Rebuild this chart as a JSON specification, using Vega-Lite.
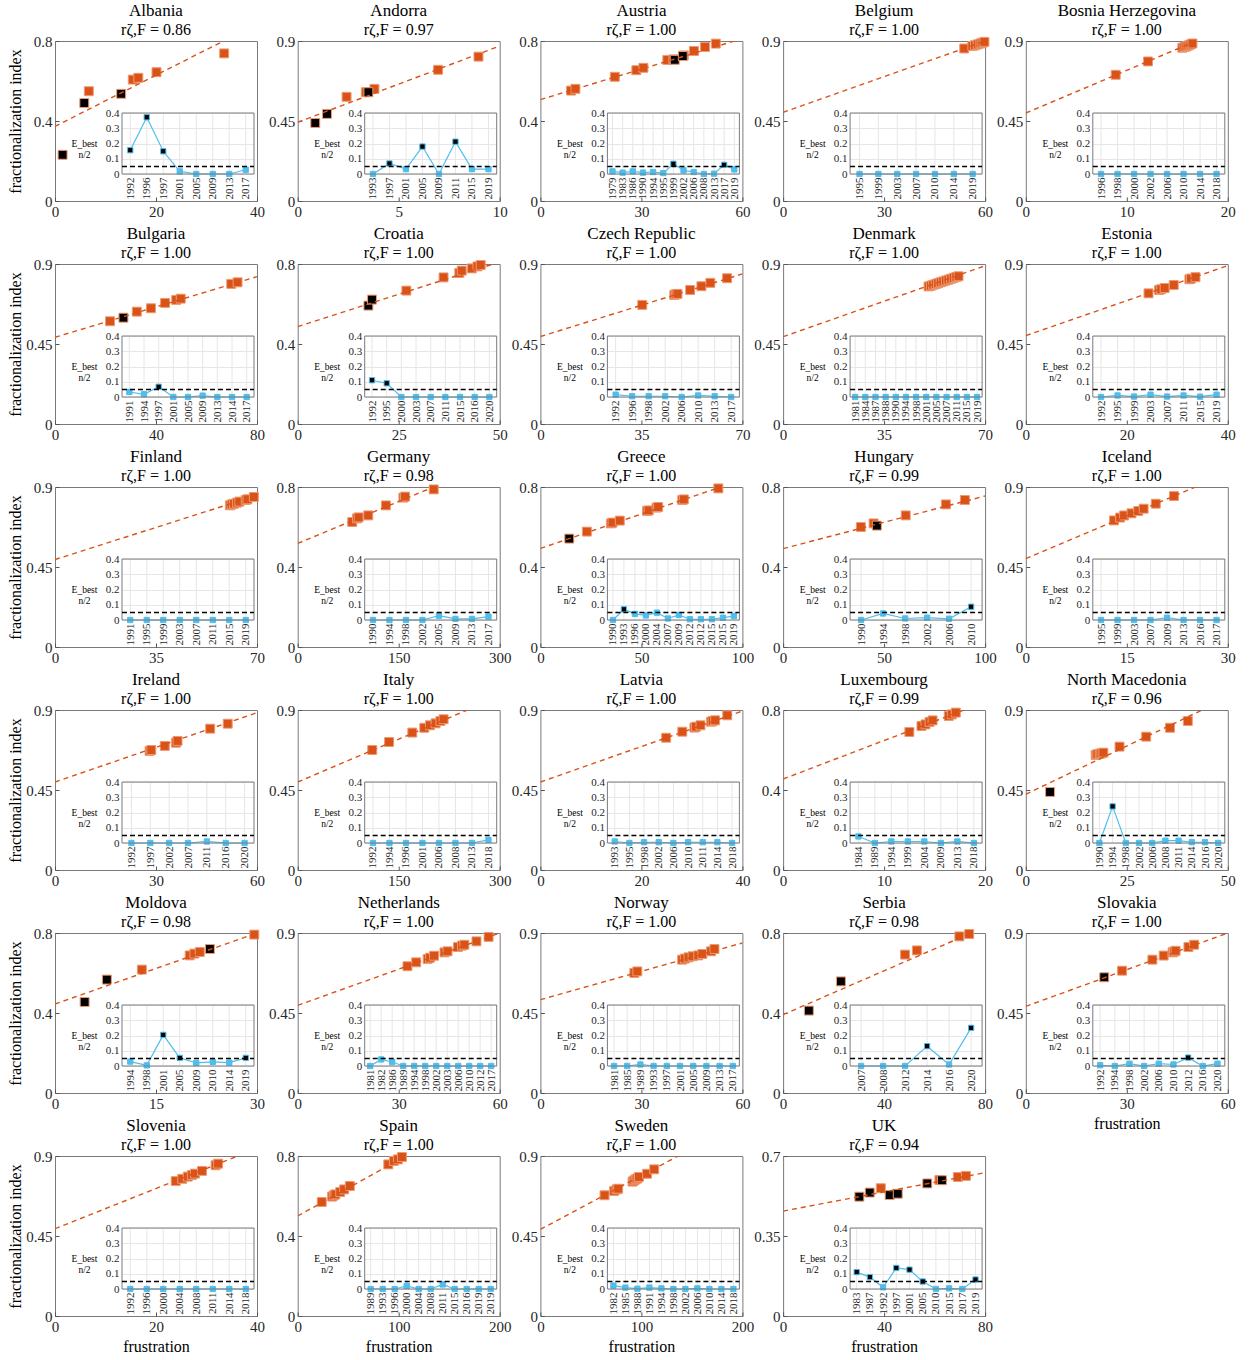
{
  "$schema": "https://vega.github.io/schema/vega-lite/v6.json",
  "padding": {"left": 6, "top": 1, "right": 0, "bottom": 0},
  "background": "white",
  "data": {"name": "el"},
  "columns": 5,
  "spacing": {"row": 63, "column": 40.7},
  "bounds": "flush",
  "datasets": {
    "el": [
      {"c":"Albania","yr":"1992","F":1.5,"z":0.231,"E":0.156,"hi":1},
      {"c":"Albania","yr":"1996","F":5.8,"z":0.49,"E":0.372,"hi":1},
      {"c":"Albania","yr":"1997","F":13.1,"z":0.536,"E":0.149,"hi":1},
      {"c":"Albania","yr":"2001","F":6.7,"z":0.549,"E":0.017},
      {"c":"Albania","yr":"2005","F":15.4,"z":0.607,"E":0},
      {"c":"Albania","yr":"2009","F":16.5,"z":0.616,"E":0},
      {"c":"Albania","yr":"2013","F":20.1,"z":0.644,"E":0},
      {"c":"Albania","yr":"2017","F":33.5,"z":0.738,"E":0.028},
      {"c":"Albania","F":0,"z":0.373,"F2":40,"z2":0.885},
      {"c":"Andorra","yr":"1993","F":2.42,"z":0.586,"E":0},
      {"c":"Andorra","yr":"1997","F":0.87,"z":0.439,"E":0.069,"hi":1},
      {"c":"Andorra","yr":"2001","F":3.37,"z":0.612,"E":0.032},
      {"c":"Andorra","yr":"2005","F":1.45,"z":0.49,"E":0.18,"hi":1},
      {"c":"Andorra","yr":"2009","F":3.8,"z":0.631,"E":0},
      {"c":"Andorra","yr":"2011","F":3.5,"z":0.612,"E":0.212,"hi":1},
      {"c":"Andorra","yr":"2015","F":6.95,"z":0.738,"E":0.032},
      {"c":"Andorra","yr":"2019","F":8.95,"z":0.812,"E":0.032},
      {"c":"Andorra","F":0,"z":0.443,"F2":10,"z2":0.872},
      {"c":"Austria","yr":"1979","F":9.1,"z":0.552,"E":0.017},
      {"c":"Austria","yr":"1983","F":10.4,"z":0.561,"E":0.009},
      {"c":"Austria","yr":"1986","F":22.1,"z":0.621,"E":0.017},
      {"c":"Austria","yr":"1990","F":28.5,"z":0.654,"E":0.009},
      {"c":"Austria","yr":"1994","F":30.6,"z":0.666,"E":0.013},
      {"c":"Austria","yr":"1995","F":37.7,"z":0.705,"E":0.006},
      {"c":"Austria","yr":"1999","F":39.9,"z":0.706,"E":0.067,"hi":1},
      {"c":"Austria","yr":"2002","F":39.5,"z":0.708,"E":0.024},
      {"c":"Austria","yr":"2006","F":42.6,"z":0.728,"E":0.013},
      {"c":"Austria","yr":"2008","F":45.6,"z":0.75,"E":0},
      {"c":"Austria","yr":"2013","F":48.9,"z":0.77,"E":0.002},
      {"c":"Austria","yr":"2017","F":42.3,"z":0.725,"E":0.06,"hi":1},
      {"c":"Austria","yr":"2019","F":52.1,"z":0.787,"E":0.03},
      {"c":"Austria","F":0,"z":0.507,"F2":60,"z2":0.812},
      {"c":"Belgium","yr":"1995","F":53.8,"z":0.858,"E":0},
      {"c":"Belgium","yr":"1999","F":56.2,"z":0.872,"E":0},
      {"c":"Belgium","yr":"2003","F":57,"z":0.876,"E":0},
      {"c":"Belgium","yr":"2007","F":57.8,"z":0.881,"E":0},
      {"c":"Belgium","yr":"2010","F":58.6,"z":0.886,"E":0},
      {"c":"Belgium","yr":"2014","F":59.2,"z":0.89,"E":0},
      {"c":"Belgium","yr":"2019","F":59.8,"z":0.895,"E":0},
      {"c":"Belgium","F":0,"z":0.499,"F2":60,"z2":0.9},
      {"c":"Bosnia Herzegovina","yr":"1996","F":8.9,"z":0.71,"E":0},
      {"c":"Bosnia Herzegovina","yr":"1998","F":12.1,"z":0.785,"E":0},
      {"c":"Bosnia Herzegovina","yr":"2000","F":15.5,"z":0.862,"E":0},
      {"c":"Bosnia Herzegovina","yr":"2002","F":15.7,"z":0.866,"E":0},
      {"c":"Bosnia Herzegovina","yr":"2006","F":15.9,"z":0.87,"E":0},
      {"c":"Bosnia Herzegovina","yr":"2010","F":16.1,"z":0.875,"E":0},
      {"c":"Bosnia Herzegovina","yr":"2014","F":16.3,"z":0.88,"E":0},
      {"c":"Bosnia Herzegovina","yr":"2018","F":16.5,"z":0.886,"E":0},
      {"c":"Bosnia Herzegovina","F":0,"z":0.495,"F2":20,"z2":0.975},
      {"c":"Bulgaria","yr":"1991","F":21.8,"z":0.578,"E":0.033},
      {"c":"Bulgaria","yr":"1994","F":32.4,"z":0.632,"E":0.018},
      {"c":"Bulgaria","yr":"1997","F":27.1,"z":0.598,"E":0.067,"hi":1},
      {"c":"Bulgaria","yr":"2001","F":38,"z":0.651,"E":0},
      {"c":"Bulgaria","yr":"2005","F":43.6,"z":0.681,"E":0},
      {"c":"Bulgaria","yr":"2009","F":48,"z":0.698,"E":0.009},
      {"c":"Bulgaria","yr":"2013","F":49.8,"z":0.705,"E":0},
      {"c":"Bulgaria","yr":"2014","F":69.8,"z":0.788,"E":0},
      {"c":"Bulgaria","yr":"2017","F":72.3,"z":0.797,"E":0},
      {"c":"Bulgaria","F":0,"z":0.488,"F2":80,"z2":0.829},
      {"c":"Croatia","yr":"1992","F":17.5,"z":0.592,"E":0.11,"hi":1},
      {"c":"Croatia","yr":"1995","F":18.4,"z":0.622,"E":0.09,"hi":1},
      {"c":"Croatia","yr":"2000","F":26.9,"z":0.667,"E":0},
      {"c":"Croatia","yr":"2003","F":36.1,"z":0.733,"E":0},
      {"c":"Croatia","yr":"2007","F":40,"z":0.755,"E":0},
      {"c":"Croatia","yr":"2011","F":40.6,"z":0.767,"E":0},
      {"c":"Croatia","yr":"2015","F":43.1,"z":0.778,"E":0},
      {"c":"Croatia","yr":"2016","F":44.5,"z":0.788,"E":0},
      {"c":"Croatia","yr":"2020","F":45.3,"z":0.795,"E":0},
      {"c":"Croatia","F":0,"z":0.487,"F2":50,"z2":0.81},
      {"c":"Czech Republic","yr":"1992","F":35.3,"z":0.67,"E":0.015},
      {"c":"Czech Republic","yr":"1996","F":46.4,"z":0.726,"E":0.005},
      {"c":"Czech Republic","yr":"1998","F":46.9,"z":0.73,"E":0.005},
      {"c":"Czech Republic","yr":"2002","F":47.5,"z":0.732,"E":0.005},
      {"c":"Czech Republic","yr":"2006","F":51.9,"z":0.754,"E":0},
      {"c":"Czech Republic","yr":"2010","F":55.8,"z":0.775,"E":0.01},
      {"c":"Czech Republic","yr":"2013","F":58.9,"z":0.794,"E":0.005},
      {"c":"Czech Republic","yr":"2017","F":64.7,"z":0.82,"E":0},
      {"c":"Czech Republic","F":0,"z":0.492,"F2":70,"z2":0.844},
      {"c":"Denmark","yr":"1981","F":50.4,"z":0.774,"E":0},
      {"c":"Denmark","yr":"1984","F":51.2,"z":0.778,"E":0},
      {"c":"Denmark","yr":"1987","F":52,"z":0.783,"E":0},
      {"c":"Denmark","yr":"1988","F":52.9,"z":0.787,"E":0},
      {"c":"Denmark","yr":"1990","F":53.7,"z":0.792,"E":0},
      {"c":"Denmark","yr":"1994","F":54.6,"z":0.797,"E":0},
      {"c":"Denmark","yr":"1998","F":55.5,"z":0.802,"E":0},
      {"c":"Denmark","yr":"2001","F":56.4,"z":0.807,"E":0},
      {"c":"Denmark","yr":"2005","F":57.3,"z":0.812,"E":0},
      {"c":"Denmark","yr":"2007","F":58.2,"z":0.817,"E":0},
      {"c":"Denmark","yr":"2011","F":59.1,"z":0.822,"E":0},
      {"c":"Denmark","yr":"2015","F":60,"z":0.827,"E":0},
      {"c":"Denmark","yr":"2019","F":60.8,"z":0.831,"E":0},
      {"c":"Denmark","F":0,"z":0.491,"F2":70,"z2":0.89},
      {"c":"Estonia","yr":"1992","F":24.3,"z":0.735,"E":0},
      {"c":"Estonia","yr":"1995","F":26.4,"z":0.754,"E":0.01},
      {"c":"Estonia","yr":"1999","F":26.8,"z":0.758,"E":0.003},
      {"c":"Estonia","yr":"2003","F":27.5,"z":0.765,"E":0.015},
      {"c":"Estonia","yr":"2007","F":29.3,"z":0.782,"E":0.003},
      {"c":"Estonia","yr":"2011","F":32.4,"z":0.814,"E":0.01},
      {"c":"Estonia","yr":"2015","F":32.7,"z":0.818,"E":0.002},
      {"c":"Estonia","yr":"2019","F":33.6,"z":0.826,"E":0.015},
      {"c":"Estonia","F":0,"z":0.497,"F2":40,"z2":0.891},
      {"c":"Finland","yr":"1991","F":60.6,"z":0.797,"E":0},
      {"c":"Finland","yr":"1995","F":61.2,"z":0.802,"E":0},
      {"c":"Finland","yr":"1999","F":62,"z":0.806,"E":0},
      {"c":"Finland","yr":"2003","F":63.1,"z":0.812,"E":0},
      {"c":"Finland","yr":"2007","F":63.9,"z":0.818,"E":0},
      {"c":"Finland","yr":"2011","F":66.1,"z":0.827,"E":0},
      {"c":"Finland","yr":"2015","F":66.7,"z":0.831,"E":0},
      {"c":"Finland","yr":"2019","F":68.9,"z":0.844,"E":0},
      {"c":"Finland","F":0,"z":0.492,"F2":70,"z2":0.853},
      {"c":"Germany","yr":"1990","F":81,"z":0.625,"E":0},
      {"c":"Germany","yr":"1994","F":88,"z":0.643,"E":0},
      {"c":"Germany","yr":"1998","F":90.5,"z":0.648,"E":0},
      {"c":"Germany","yr":"2002","F":104.8,"z":0.658,"E":0},
      {"c":"Germany","yr":"2005","F":131,"z":0.708,"E":0.028},
      {"c":"Germany","yr":"2009","F":157,"z":0.747,"E":0.007},
      {"c":"Germany","yr":"2013","F":159.5,"z":0.752,"E":0.007},
      {"c":"Germany","yr":"2017","F":202,"z":0.788,"E":0.022},
      {"c":"Germany","F":0,"z":0.518,"F2":300,"z2":0.937},
      {"c":"Greece","yr":"1990","F":23,"z":0.577,"E":0},
      {"c":"Greece","yr":"1993","F":14.3,"z":0.542,"E":0.07,"hi":1},
      {"c":"Greece","yr":"1996","F":34.9,"z":0.618,"E":0.04},
      {"c":"Greece","yr":"2000","F":35.7,"z":0.622,"E":0.03},
      {"c":"Greece","yr":"2004","F":39.3,"z":0.632,"E":0.048},
      {"c":"Greece","yr":"2007","F":52.8,"z":0.68,"E":0.01},
      {"c":"Greece","yr":"2009","F":53.6,"z":0.683,"E":0.033},
      {"c":"Greece","yr":"2012","F":57.5,"z":0.697,"E":0.005},
      {"c":"Greece","yr":"2012-2","F":58.3,"z":0.7,"E":0.005},
      {"c":"Greece","yr":"2015","F":70.2,"z":0.735,"E":0.005},
      {"c":"Greece","yr":"2015-2","F":71,"z":0.738,"E":0.015},
      {"c":"Greece","yr":"2019","F":88.1,"z":0.793,"E":0.026},
      {"c":"Greece","F":0,"z":0.493,"F2":100,"z2":0.837},
      {"c":"Hungary","yr":"1990","F":38.5,"z":0.6,"E":0},
      {"c":"Hungary","yr":"1994","F":44.8,"z":0.618,"E":0.043},
      {"c":"Hungary","yr":"1998","F":60.7,"z":0.658,"E":0.01},
      {"c":"Hungary","yr":"2002","F":80.6,"z":0.713,"E":0.015},
      {"c":"Hungary","yr":"2006","F":90,"z":0.735,"E":0.008},
      {"c":"Hungary","yr":"2010","F":46.4,"z":0.607,"E":0.087,"hi":1},
      {"c":"Hungary","F":0,"z":0.492,"F2":100,"z2":0.755},
      {"c":"Iceland","yr":"1995","F":13.1,"z":0.712,"E":0},
      {"c":"Iceland","yr":"1999","F":14,"z":0.728,"E":0},
      {"c":"Iceland","yr":"2003","F":14.6,"z":0.74,"E":0},
      {"c":"Iceland","yr":"2007","F":15.7,"z":0.752,"E":0},
      {"c":"Iceland","yr":"2009","F":16.7,"z":0.765,"E":0.015},
      {"c":"Iceland","yr":"2013","F":17.5,"z":0.778,"E":0},
      {"c":"Iceland","yr":"2016","F":19.3,"z":0.806,"E":0},
      {"c":"Iceland","yr":"2017","F":22,"z":0.849,"E":0},
      {"c":"Iceland","F":0,"z":0.497,"F2":30,"z2":0.977},
      {"c":"Ireland","yr":"1992","F":28.1,"z":0.669,"E":0},
      {"c":"Ireland","yr":"1997","F":28.6,"z":0.675,"E":0},
      {"c":"Ireland","yr":"2002","F":32.6,"z":0.698,"E":0},
      {"c":"Ireland","yr":"2007","F":35.9,"z":0.716,"E":0},
      {"c":"Ireland","yr":"2011","F":36.4,"z":0.726,"E":0.01},
      {"c":"Ireland","yr":"2016","F":46.1,"z":0.795,"E":0},
      {"c":"Ireland","yr":"2020","F":51.3,"z":0.823,"E":0},
      {"c":"Ireland","F":0,"z":0.495,"F2":60,"z2":0.885},
      {"c":"Italy","yr":"1992","F":110.7,"z":0.675,"E":0},
      {"c":"Italy","yr":"1994","F":135.7,"z":0.72,"E":0},
      {"c":"Italy","yr":"1996","F":170.2,"z":0.773,"E":0},
      {"c":"Italy","yr":"2001","F":188,"z":0.8,"E":0},
      {"c":"Italy","yr":"2006","F":196.4,"z":0.814,"E":0},
      {"c":"Italy","yr":"2008","F":204.8,"z":0.825,"E":0},
      {"c":"Italy","yr":"2013","F":211.9,"z":0.838,"E":0},
      {"c":"Italy","yr":"2018","F":216.7,"z":0.848,"E":0.02},
      {"c":"Italy","F":0,"z":0.495,"F2":300,"z2":0.977},
      {"c":"Latvia","yr":"1993","F":24.9,"z":0.744,"E":0.01},
      {"c":"Latvia","yr":"1995","F":28.1,"z":0.778,"E":0},
      {"c":"Latvia","yr":"1998","F":30.5,"z":0.801,"E":0.005},
      {"c":"Latvia","yr":"2002","F":30.8,"z":0.806,"E":0.005},
      {"c":"Latvia","yr":"2006","F":31.7,"z":0.814,"E":0},
      {"c":"Latvia","yr":"2010","F":33.8,"z":0.834,"E":0.005},
      {"c":"Latvia","yr":"2011","F":34.1,"z":0.838,"E":0.005},
      {"c":"Latvia","yr":"2014","F":34.6,"z":0.842,"E":0.005},
      {"c":"Latvia","yr":"2018","F":37,"z":0.87,"E":0},
      {"c":"Latvia","F":0,"z":0.495,"F2":40,"z2":0.894},
      {"c":"Luxembourg","yr":"1984","F":12.5,"z":0.69,"E":0.043},
      {"c":"Luxembourg","yr":"1989","F":13.7,"z":0.72,"E":0},
      {"c":"Luxembourg","yr":"1994","F":14.1,"z":0.728,"E":0.01},
      {"c":"Luxembourg","yr":"1999","F":14.5,"z":0.74,"E":0.01},
      {"c":"Luxembourg","yr":"2004","F":14.8,"z":0.748,"E":0.01},
      {"c":"Luxembourg","yr":"2009","F":16.4,"z":0.77,"E":0},
      {"c":"Luxembourg","yr":"2013","F":16.7,"z":0.778,"E":0.01},
      {"c":"Luxembourg","yr":"2018","F":17.1,"z":0.787,"E":0},
      {"c":"Luxembourg","F":0,"z":0.455,"F2":20,"z2":0.84},
      {"c":"North Macedonia","yr":"1990","F":17.3,"z":0.647,"E":0},
      {"c":"North Macedonia","yr":"1994","F":6,"z":0.439,"E":0.24,"hi":1},
      {"c":"North Macedonia","yr":"1998","F":17.7,"z":0.651,"E":0},
      {"c":"North Macedonia","yr":"2002","F":18.3,"z":0.654,"E":0},
      {"c":"North Macedonia","yr":"2006","F":18.7,"z":0.656,"E":0},
      {"c":"North Macedonia","yr":"2008","F":19.2,"z":0.66,"E":0.015},
      {"c":"North Macedonia","yr":"2011","F":23.2,"z":0.694,"E":0.015},
      {"c":"North Macedonia","yr":"2014","F":29.8,"z":0.75,"E":0.005},
      {"c":"North Macedonia","yr":"2016","F":35.7,"z":0.8,"E":0.005},
      {"c":"North Macedonia","yr":"2020","F":40.1,"z":0.838,"E":0},
      {"c":"North Macedonia","F":0,"z":0.426,"F2":50,"z2":0.969},
      {"c":"Moldova","yr":"1994","F":12.9,"z":0.617,"E":0.029},
      {"c":"Moldova","yr":"1998","F":20,"z":0.688,"E":0.004},
      {"c":"Moldova","yr":"2001","F":4.4,"z":0.455,"E":0.204,"hi":1},
      {"c":"Moldova","yr":"2005","F":7.7,"z":0.567,"E":0.053,"hi":1},
      {"c":"Moldova","yr":"2009","F":20.7,"z":0.697,"E":0.02},
      {"c":"Moldova","yr":"2010","F":21.5,"z":0.705,"E":0.027},
      {"c":"Moldova","yr":"2014","F":29.6,"z":0.792,"E":0.022},
      {"c":"Moldova","yr":"2019","F":23,"z":0.72,"E":0.053,"hi":1},
      {"c":"Moldova","F":0,"z":0.445,"F2":30,"z2":0.8},
      {"c":"Netherlands","yr":"1981","F":32.6,"z":0.713,"E":0},
      {"c":"Netherlands","yr":"1982","F":35.2,"z":0.735,"E":0.043},
      {"c":"Netherlands","yr":"1986","F":38.6,"z":0.754,"E":0.026},
      {"c":"Netherlands","yr":"1989","F":39.3,"z":0.761,"E":0},
      {"c":"Netherlands","yr":"1994","F":40.5,"z":0.772,"E":0},
      {"c":"Netherlands","yr":"1998","F":43.6,"z":0.791,"E":0},
      {"c":"Netherlands","yr":"2002","F":44.5,"z":0.797,"E":0},
      {"c":"Netherlands","yr":"2003","F":47.6,"z":0.821,"E":0},
      {"c":"Netherlands","yr":"2006","F":48.8,"z":0.829,"E":0},
      {"c":"Netherlands","yr":"2010","F":49.5,"z":0.834,"E":0},
      {"c":"Netherlands","yr":"2012","F":53.1,"z":0.853,"E":0},
      {"c":"Netherlands","yr":"2017","F":56.7,"z":0.878,"E":0},
      {"c":"Netherlands","F":0,"z":0.493,"F2":60,"z2":0.9},
      {"c":"Norway","yr":"1981","F":27.9,"z":0.675,"E":0},
      {"c":"Norway","yr":"1985","F":28.8,"z":0.684,"E":0},
      {"c":"Norway","yr":"1989","F":42.1,"z":0.75,"E":0.01},
      {"c":"Norway","yr":"1993","F":42.9,"z":0.756,"E":0},
      {"c":"Norway","yr":"1997","F":44,"z":0.763,"E":0},
      {"c":"Norway","yr":"2001","F":45.2,"z":0.769,"E":0},
      {"c":"Norway","yr":"2005","F":46.9,"z":0.774,"E":0},
      {"c":"Norway","yr":"2009","F":48.1,"z":0.782,"E":0},
      {"c":"Norway","yr":"2013","F":50.7,"z":0.797,"E":0},
      {"c":"Norway","yr":"2017","F":51.7,"z":0.81,"E":0},
      {"c":"Norway","F":0,"z":0.525,"F2":60,"z2":0.844},
      {"c":"Serbia","yr":"2007","F":48.3,"z":0.692,"E":0},
      {"c":"Serbia","yr":"2008","F":53,"z":0.713,"E":0},
      {"c":"Serbia","yr":"2012","F":69.8,"z":0.783,"E":0},
      {"c":"Serbia","yr":"2014","F":10.2,"z":0.412,"E":0.13,"hi":1},
      {"c":"Serbia","yr":"2016","F":73.7,"z":0.795,"E":0.01},
      {"c":"Serbia","yr":"2020","F":22.9,"z":0.558,"E":0.25,"hi":1},
      {"c":"Serbia","F":0,"z":0.392,"F2":80,"z2":0.83},
      {"c":"Slovakia","yr":"1992","F":28.6,"z":0.688,"E":0.005},
      {"c":"Slovakia","yr":"1994","F":37.6,"z":0.75,"E":0},
      {"c":"Slovakia","yr":"1998","F":40.95,"z":0.773,"E":0.015},
      {"c":"Slovakia","yr":"2002","F":43.6,"z":0.791,"E":0},
      {"c":"Slovakia","yr":"2006","F":44,"z":0.795,"E":0.015},
      {"c":"Slovakia","yr":"2010","F":44.5,"z":0.8,"E":0.01},
      {"c":"Slovakia","yr":"2012","F":23.3,"z":0.651,"E":0.055,"hi":1},
      {"c":"Slovakia","yr":"2016","F":48.3,"z":0.821,"E":0},
      {"c":"Slovakia","yr":"2020","F":50,"z":0.834,"E":0.015},
      {"c":"Slovakia","F":0,"z":0.4875,"F2":60,"z2":0.9},
      {"c":"Slovenia","yr":"1992","F":23.9,"z":0.759,"E":0},
      {"c":"Slovenia","yr":"1996","F":25.2,"z":0.772,"E":0},
      {"c":"Slovenia","yr":"2000","F":26.3,"z":0.784,"E":0},
      {"c":"Slovenia","yr":"2004","F":27.1,"z":0.793,"E":0},
      {"c":"Slovenia","yr":"2008","F":27.7,"z":0.801,"E":0},
      {"c":"Slovenia","yr":"2011","F":29.1,"z":0.816,"E":0},
      {"c":"Slovenia","yr":"2014","F":31.8,"z":0.848,"E":0},
      {"c":"Slovenia","yr":"2018","F":32.3,"z":0.857,"E":0},
      {"c":"Slovenia","F":0,"z":0.491,"F2":40,"z2":0.943},
      {"c":"Spain","yr":"1989","F":23.8,"z":0.57,"E":0},
      {"c":"Spain","yr":"1993","F":34.1,"z":0.597,"E":0},
      {"c":"Spain","yr":"1996","F":35.7,"z":0.603,"E":0},
      {"c":"Spain","yr":"2000","F":37.3,"z":0.608,"E":0.02},
      {"c":"Spain","yr":"2004","F":42.1,"z":0.62,"E":0},
      {"c":"Spain","yr":"2008","F":46,"z":0.633,"E":0},
      {"c":"Spain","yr":"2011","F":51.6,"z":0.65,"E":0.03},
      {"c":"Spain","yr":"2015","F":89.7,"z":0.758,"E":0},
      {"c":"Spain","yr":"2016","F":95.2,"z":0.775,"E":0},
      {"c":"Spain","yr":"2019","F":99.2,"z":0.783,"E":0},
      {"c":"Spain","yr":"2019-2","F":103.2,"z":0.795,"E":0},
      {"c":"Spain","F":0,"z":0.5,"F2":200,"z2":1.06},
      {"c":"Sweden","yr":"1982","F":63.5,"z":0.679,"E":0.022},
      {"c":"Sweden","yr":"1985","F":73,"z":0.703,"E":0.009},
      {"c":"Sweden","yr":"1988","F":75.4,"z":0.712,"E":0.002},
      {"c":"Sweden","yr":"1991","F":77,"z":0.716,"E":0.009},
      {"c":"Sweden","yr":"1994","F":91.3,"z":0.756,"E":0.004},
      {"c":"Sweden","yr":"1998","F":92.9,"z":0.763,"E":0},
      {"c":"Sweden","yr":"2002","F":94.4,"z":0.769,"E":0},
      {"c":"Sweden","yr":"2006","F":96,"z":0.774,"E":0.004},
      {"c":"Sweden","yr":"2010","F":97.6,"z":0.782,"E":0},
      {"c":"Sweden","yr":"2014","F":105.6,"z":0.8,"E":0},
      {"c":"Sweden","yr":"2018","F":112.7,"z":0.825,"E":0},
      {"c":"Sweden","F":0,"z":0.4875,"F2":200,"z2":1.092},
      {"c":"UK","yr":"1983","F":30.2,"z":0.522,"E":0.111,"hi":1},
      {"c":"UK","yr":"1987","F":34.3,"z":0.54,"E":0.078,"hi":1},
      {"c":"UK","yr":"1992","F":38.7,"z":0.559,"E":0.011},
      {"c":"UK","yr":"1997","F":42.2,"z":0.529,"E":0.138,"hi":1},
      {"c":"UK","yr":"2001","F":45.4,"z":0.535,"E":0.127,"hi":1},
      {"c":"UK","yr":"2005","F":57.1,"z":0.58,"E":0.049,"hi":1},
      {"c":"UK","yr":"2010","F":61.9,"z":0.595,"E":0},
      {"c":"UK","yr":"2015","F":69.2,"z":0.608,"E":0.004},
      {"c":"UK","yr":"2017","F":72.4,"z":0.613,"E":0},
      {"c":"UK","yr":"2019","F":62.9,"z":0.594,"E":0.062,"hi":1},
      {"c":"UK","F":0,"z":0.459,"F2":80,"z2":0.627}
    ]
  },
  "concat": [
    {"width":202,"height":160,"title":{"text":"Albania","subtitle":"rζ,F = 0.86"},"transform":[{"filter":"datum.c=='Albania'"}],"resolve":{"scale":{"x":"independent","y":"independent"}},"layer":[
      {"encoding":{"x":{"field":"F","type":"quantitative","scale":{"domain":[0,40]},"axis":{"values":[0,20,40],"labelExpr":"datum.value+''","title":null}},"y":{"field":"z","type":"quantitative","scale":{"domain":[0,0.8]},"axis":{"values":[0,0.4,0.8],"labelExpr":"datum.value+''","title":"fractionalization index","titleX":-40,"titleY":80,"titleAngle":-90,"titleBaseline":"middle","titleAlign":"center"}}},
       "layer":[{"transform":[{"filter":"datum.yr"}],"mark":{"type":"square","style":"msq"},"encoding":{"fill":{"condition":{"test":"datum.hi","value":"#000"},"value":"#D95319"},"order":{"field":"hi","type":"quantitative"}}},{"transform":[{"filter":"datum.F2"}],"mark":{"type":"rule","style":"fit","clip":true},"encoding":{"x2":{"field":"F2"},"y2":{"field":"z2"}}}]},
      {"transform":[{"filter":"datum.yr"}],"encoding":{"x":{"field":"yr","type":"ordinal","scale":{"type":"point","padding":0.5,"range":[67,199]},"axis":{"orient":"bottom","offset":-27,"labelAngle":-90,"labelAlign":"right","labelBaseline":"middle","labelFontSize":11,"labelPadding":3,"labelOverlap":false,"labelExpr":"substring(datum.label,0,4)","ticks":false,"title":null}},"y":{"field":"E","type":"quantitative","scale":{"domain":[0,0.4],"range":[133,72]},"axis":{"orient":"left","offset":-67,"values":[0,0.1,0.2,0.3,0.4],"labelExpr":"datum.value+''","labelFontSize":11,"labelPadding":3,"grid":true,"gridColor":"#e6e6e6","ticks":false,"title":["E_best","n/2"],"titleAngle":0,"titleX":-38,"titleY":102,"titleAlign":"center","titleBaseline":"middle","titleFontSize":9.5,"titleLineHeight":11}}},
       "layer":[{"mark":{"type":"rule","color":"#e6e6e6"},"encoding":{"y":{"datum":0},"y2":{"datum":0.4}}},{"mark":{"type":"line","style":"iln"}},{"mark":{"type":"square","style":"isq"},"encoding":{"fill":{"condition":{"test":"datum.hi","value":"#000"},"value":"#4DBEEE"},"order":{"field":"hi","type":"quantitative"}}}]},
      {"data":{"values":[{}]},"encoding":{"x":{"datum":0,"type":"quantitative","scale":{"domain":[0,1],"range":[67,199]},"axis":null},"x2":{"datum":1}},
       "layer":[{"mark":{"type":"rect","filled":false,"color":"#7a7a7a"},"encoding":{"y":{"datum":0,"type":"quantitative","scale":{"domain":[0,0.4],"range":[133,72]},"axis":null},"y2":{"datum":0.4}}},{"mark":{"type":"rule","style":"thr"},"encoding":{"y":{"datum":0.05,"type":"quantitative","scale":{"domain":[0,0.4],"range":[133,72]},"axis":null}}}]}]},
    {"width":202,"height":160,"title":{"text":"Andorra","subtitle":"rζ,F = 0.97"},"transform":[{"filter":"datum.c=='Andorra'"}],"resolve":{"scale":{"x":"independent","y":"independent"}},"layer":[
      {"encoding":{"x":{"field":"F","type":"quantitative","scale":{"domain":[0,10]},"axis":{"values":[0,5,10],"labelExpr":"datum.value+''","title":null}},"y":{"field":"z","type":"quantitative","scale":{"domain":[0,0.9]},"axis":{"values":[0,0.45,0.9],"labelExpr":"datum.value+''","title":null}}},
       "layer":[{"transform":[{"filter":"datum.yr"}],"mark":{"type":"square","style":"msq"},"encoding":{"fill":{"condition":{"test":"datum.hi","value":"#000"},"value":"#D95319"},"order":{"field":"hi","type":"quantitative"}}},{"transform":[{"filter":"datum.F2"}],"mark":{"type":"rule","style":"fit","clip":true},"encoding":{"x2":{"field":"F2"},"y2":{"field":"z2"}}}]},
      {"transform":[{"filter":"datum.yr"}],"encoding":{"x":{"field":"yr","type":"ordinal","scale":{"type":"point","padding":0.5,"range":[67,199]},"axis":{"orient":"bottom","offset":-27,"labelAngle":-90,"labelAlign":"right","labelBaseline":"middle","labelFontSize":11,"labelPadding":3,"labelOverlap":false,"labelExpr":"substring(datum.label,0,4)","ticks":false,"title":null}},"y":{"field":"E","type":"quantitative","scale":{"domain":[0,0.4],"range":[133,72]},"axis":{"orient":"left","offset":-67,"values":[0,0.1,0.2,0.3,0.4],"labelExpr":"datum.value+''","labelFontSize":11,"labelPadding":3,"grid":true,"gridColor":"#e6e6e6","ticks":false,"title":["E_best","n/2"],"titleAngle":0,"titleX":-38,"titleY":102,"titleAlign":"center","titleBaseline":"middle","titleFontSize":9.5,"titleLineHeight":11}}},
       "layer":[{"mark":{"type":"rule","color":"#e6e6e6"},"encoding":{"y":{"datum":0},"y2":{"datum":0.4}}},{"mark":{"type":"line","style":"iln"}},{"mark":{"type":"square","style":"isq"},"encoding":{"fill":{"condition":{"test":"datum.hi","value":"#000"},"value":"#4DBEEE"},"order":{"field":"hi","type":"quantitative"}}}]},
      {"data":{"values":[{}]},"encoding":{"x":{"datum":0,"type":"quantitative","scale":{"domain":[0,1],"range":[67,199]},"axis":null},"x2":{"datum":1}},
       "layer":[{"mark":{"type":"rect","filled":false,"color":"#7a7a7a"},"encoding":{"y":{"datum":0,"type":"quantitative","scale":{"domain":[0,0.4],"range":[133,72]},"axis":null},"y2":{"datum":0.4}}},{"mark":{"type":"rule","style":"thr"},"encoding":{"y":{"datum":0.05,"type":"quantitative","scale":{"domain":[0,0.4],"range":[133,72]},"axis":null}}}]}]},
    {"width":202,"height":160,"title":{"text":"Austria","subtitle":"rζ,F = 1.00"},"transform":[{"filter":"datum.c=='Austria'"}],"resolve":{"scale":{"x":"independent","y":"independent"}},"layer":[
      {"encoding":{"x":{"field":"F","type":"quantitative","scale":{"domain":[0,60]},"axis":{"values":[0,30,60],"labelExpr":"datum.value+''","title":null}},"y":{"field":"z","type":"quantitative","scale":{"domain":[0,0.8]},"axis":{"values":[0,0.4,0.8],"labelExpr":"datum.value+''","title":null}}},
       "layer":[{"transform":[{"filter":"datum.yr"}],"mark":{"type":"square","style":"msq"},"encoding":{"fill":{"condition":{"test":"datum.hi","value":"#000"},"value":"#D95319"},"order":{"field":"hi","type":"quantitative"}}},{"transform":[{"filter":"datum.F2"}],"mark":{"type":"rule","style":"fit","clip":true},"encoding":{"x2":{"field":"F2"},"y2":{"field":"z2"}}}]},
      {"transform":[{"filter":"datum.yr"}],"encoding":{"x":{"field":"yr","type":"ordinal","scale":{"type":"point","padding":0.5,"range":[67,199]},"axis":{"orient":"bottom","offset":-27,"labelAngle":-90,"labelAlign":"right","labelBaseline":"middle","labelFontSize":11,"labelPadding":3,"labelOverlap":false,"labelExpr":"substring(datum.label,0,4)","ticks":false,"title":null}},"y":{"field":"E","type":"quantitative","scale":{"domain":[0,0.4],"range":[133,72]},"axis":{"orient":"left","offset":-67,"values":[0,0.1,0.2,0.3,0.4],"labelExpr":"datum.value+''","labelFontSize":11,"labelPadding":3,"grid":true,"gridColor":"#e6e6e6","ticks":false,"title":["E_best","n/2"],"titleAngle":0,"titleX":-38,"titleY":102,"titleAlign":"center","titleBaseline":"middle","titleFontSize":9.5,"titleLineHeight":11}}},
       "layer":[{"mark":{"type":"rule","color":"#e6e6e6"},"encoding":{"y":{"datum":0},"y2":{"datum":0.4}}},{"mark":{"type":"line","style":"iln"}},{"mark":{"type":"square","style":"isq"},"encoding":{"fill":{"condition":{"test":"datum.hi","value":"#000"},"value":"#4DBEEE"},"order":{"field":"hi","type":"quantitative"}}}]},
      {"data":{"values":[{}]},"encoding":{"x":{"datum":0,"type":"quantitative","scale":{"domain":[0,1],"range":[67,199]},"axis":null},"x2":{"datum":1}},
       "layer":[{"mark":{"type":"rect","filled":false,"color":"#7a7a7a"},"encoding":{"y":{"datum":0,"type":"quantitative","scale":{"domain":[0,0.4],"range":[133,72]},"axis":null},"y2":{"datum":0.4}}},{"mark":{"type":"rule","style":"thr"},"encoding":{"y":{"datum":0.05,"type":"quantitative","scale":{"domain":[0,0.4],"range":[133,72]},"axis":null}}}]}]},
    {"width":202,"height":160,"title":{"text":"Belgium","subtitle":"rζ,F = 1.00"},"transform":[{"filter":"datum.c=='Belgium'"}],"resolve":{"scale":{"x":"independent","y":"independent"}},"layer":[
      {"encoding":{"x":{"field":"F","type":"quantitative","scale":{"domain":[0,60]},"axis":{"values":[0,30,60],"labelExpr":"datum.value+''","title":null}},"y":{"field":"z","type":"quantitative","scale":{"domain":[0,0.9]},"axis":{"values":[0,0.45,0.9],"labelExpr":"datum.value+''","title":null}}},
       "layer":[{"transform":[{"filter":"datum.yr"}],"mark":{"type":"square","style":"msq"},"encoding":{"fill":{"condition":{"test":"datum.hi","value":"#000"},"value":"#D95319"},"order":{"field":"hi","type":"quantitative"}}},{"transform":[{"filter":"datum.F2"}],"mark":{"type":"rule","style":"fit","clip":true},"encoding":{"x2":{"field":"F2"},"y2":{"field":"z2"}}}]},
      {"transform":[{"filter":"datum.yr"}],"encoding":{"x":{"field":"yr","type":"ordinal","scale":{"type":"point","padding":0.5,"range":[67,199]},"axis":{"orient":"bottom","offset":-27,"labelAngle":-90,"labelAlign":"right","labelBaseline":"middle","labelFontSize":11,"labelPadding":3,"labelOverlap":false,"labelExpr":"substring(datum.label,0,4)","ticks":false,"title":null}},"y":{"field":"E","type":"quantitative","scale":{"domain":[0,0.4],"range":[133,72]},"axis":{"orient":"left","offset":-67,"values":[0,0.1,0.2,0.3,0.4],"labelExpr":"datum.value+''","labelFontSize":11,"labelPadding":3,"grid":true,"gridColor":"#e6e6e6","ticks":false,"title":["E_best","n/2"],"titleAngle":0,"titleX":-38,"titleY":102,"titleAlign":"center","titleBaseline":"middle","titleFontSize":9.5,"titleLineHeight":11}}},
       "layer":[{"mark":{"type":"rule","color":"#e6e6e6"},"encoding":{"y":{"datum":0},"y2":{"datum":0.4}}},{"mark":{"type":"line","style":"iln"}},{"mark":{"type":"square","style":"isq"},"encoding":{"fill":{"condition":{"test":"datum.hi","value":"#000"},"value":"#4DBEEE"},"order":{"field":"hi","type":"quantitative"}}}]},
      {"data":{"values":[{}]},"encoding":{"x":{"datum":0,"type":"quantitative","scale":{"domain":[0,1],"range":[67,199]},"axis":null},"x2":{"datum":1}},
       "layer":[{"mark":{"type":"rect","filled":false,"color":"#7a7a7a"},"encoding":{"y":{"datum":0,"type":"quantitative","scale":{"domain":[0,0.4],"range":[133,72]},"axis":null},"y2":{"datum":0.4}}},{"mark":{"type":"rule","style":"thr"},"encoding":{"y":{"datum":0.05,"type":"quantitative","scale":{"domain":[0,0.4],"range":[133,72]},"axis":null}}}]}]},
    {"width":202,"height":160,"title":{"text":"Bosnia Herzegovina","subtitle":"rζ,F = 1.00"},"transform":[{"filter":"datum.c=='Bosnia Herzegovina'"}],"resolve":{"scale":{"x":"independent","y":"independent"}},"layer":[
      {"encoding":{"x":{"field":"F","type":"quantitative","scale":{"domain":[0,20]},"axis":{"values":[0,10,20],"labelExpr":"datum.value+''","title":null}},"y":{"field":"z","type":"quantitative","scale":{"domain":[0,0.9]},"axis":{"values":[0,0.45,0.9],"labelExpr":"datum.value+''","title":null}}},
       "layer":[{"transform":[{"filter":"datum.yr"}],"mark":{"type":"square","style":"msq"},"encoding":{"fill":{"condition":{"test":"datum.hi","value":"#000"},"value":"#D95319"},"order":{"field":"hi","type":"quantitative"}}},{"transform":[{"filter":"datum.F2"}],"mark":{"type":"rule","style":"fit","clip":true},"encoding":{"x2":{"field":"F2"},"y2":{"field":"z2"}}}]},
      {"transform":[{"filter":"datum.yr"}],"encoding":{"x":{"field":"yr","type":"ordinal","scale":{"type":"point","padding":0.5,"range":[67,199]},"axis":{"orient":"bottom","offset":-27,"labelAngle":-90,"labelAlign":"right","labelBaseline":"middle","labelFontSize":11,"labelPadding":3,"labelOverlap":false,"labelExpr":"substring(datum.label,0,4)","ticks":false,"title":null}},"y":{"field":"E","type":"quantitative","scale":{"domain":[0,0.4],"range":[133,72]},"axis":{"orient":"left","offset":-67,"values":[0,0.1,0.2,0.3,0.4],"labelExpr":"datum.value+''","labelFontSize":11,"labelPadding":3,"grid":true,"gridColor":"#e6e6e6","ticks":false,"title":["E_best","n/2"],"titleAngle":0,"titleX":-38,"titleY":102,"titleAlign":"center","titleBaseline":"middle","titleFontSize":9.5,"titleLineHeight":11}}},
       "layer":[{"mark":{"type":"rule","color":"#e6e6e6"},"encoding":{"y":{"datum":0},"y2":{"datum":0.4}}},{"mark":{"type":"line","style":"iln"}},{"mark":{"type":"square","style":"isq"},"encoding":{"fill":{"condition":{"test":"datum.hi","value":"#000"},"value":"#4DBEEE"},"order":{"field":"hi","type":"quantitative"}}}]},
      {"data":{"values":[{}]},"encoding":{"x":{"datum":0,"type":"quantitative","scale":{"domain":[0,1],"range":[67,199]},"axis":null},"x2":{"datum":1}},
       "layer":[{"mark":{"type":"rect","filled":false,"color":"#7a7a7a"},"encoding":{"y":{"datum":0,"type":"quantitative","scale":{"domain":[0,0.4],"range":[133,72]},"axis":null},"y2":{"datum":0.4}}},{"mark":{"type":"rule","style":"thr"},"encoding":{"y":{"datum":0.05,"type":"quantitative","scale":{"domain":[0,0.4],"range":[133,72]},"axis":null}}}]}]},
    {"width":202,"height":160,"title":{"text":"Bulgaria","subtitle":"rζ,F = 1.00"},"transform":[{"filter":"datum.c=='Bulgaria'"}],"resolve":{"scale":{"x":"independent","y":"independent"}},"layer":[
      {"encoding":{"x":{"field":"F","type":"quantitative","scale":{"domain":[0,80]},"axis":{"values":[0,40,80],"labelExpr":"datum.value+''","title":null}},"y":{"field":"z","type":"quantitative","scale":{"domain":[0,0.9]},"axis":{"values":[0,0.45,0.9],"labelExpr":"datum.value+''","title":"fractionalization index","titleX":-40,"titleY":80,"titleAngle":-90,"titleBaseline":"middle","titleAlign":"center"}}},
       "layer":[{"transform":[{"filter":"datum.yr"}],"mark":{"type":"square","style":"msq"},"encoding":{"fill":{"condition":{"test":"datum.hi","value":"#000"},"value":"#D95319"},"order":{"field":"hi","type":"quantitative"}}},{"transform":[{"filter":"datum.F2"}],"mark":{"type":"rule","style":"fit","clip":true},"encoding":{"x2":{"field":"F2"},"y2":{"field":"z2"}}}]},
      {"transform":[{"filter":"datum.yr"}],"encoding":{"x":{"field":"yr","type":"ordinal","scale":{"type":"point","padding":0.5,"range":[67,199]},"axis":{"orient":"bottom","offset":-27,"labelAngle":-90,"labelAlign":"right","labelBaseline":"middle","labelFontSize":11,"labelPadding":3,"labelOverlap":false,"labelExpr":"substring(datum.label,0,4)","ticks":false,"title":null}},"y":{"field":"E","type":"quantitative","scale":{"domain":[0,0.4],"range":[133,72]},"axis":{"orient":"left","offset":-67,"values":[0,0.1,0.2,0.3,0.4],"labelExpr":"datum.value+''","labelFontSize":11,"labelPadding":3,"grid":true,"gridColor":"#e6e6e6","ticks":false,"title":["E_best","n/2"],"titleAngle":0,"titleX":-38,"titleY":102,"titleAlign":"center","titleBaseline":"middle","titleFontSize":9.5,"titleLineHeight":11}}},
       "layer":[{"mark":{"type":"rule","color":"#e6e6e6"},"encoding":{"y":{"datum":0},"y2":{"datum":0.4}}},{"mark":{"type":"line","style":"iln"}},{"mark":{"type":"square","style":"isq"},"encoding":{"fill":{"condition":{"test":"datum.hi","value":"#000"},"value":"#4DBEEE"},"order":{"field":"hi","type":"quantitative"}}}]},
      {"data":{"values":[{}]},"encoding":{"x":{"datum":0,"type":"quantitative","scale":{"domain":[0,1],"range":[67,199]},"axis":null},"x2":{"datum":1}},
       "layer":[{"mark":{"type":"rect","filled":false,"color":"#7a7a7a"},"encoding":{"y":{"datum":0,"type":"quantitative","scale":{"domain":[0,0.4],"range":[133,72]},"axis":null},"y2":{"datum":0.4}}},{"mark":{"type":"rule","style":"thr"},"encoding":{"y":{"datum":0.05,"type":"quantitative","scale":{"domain":[0,0.4],"range":[133,72]},"axis":null}}}]}]},
    {"width":202,"height":160,"title":{"text":"Croatia","subtitle":"rζ,F = 1.00"},"transform":[{"filter":"datum.c=='Croatia'"}],"resolve":{"scale":{"x":"independent","y":"independent"}},"layer":[
      {"encoding":{"x":{"field":"F","type":"quantitative","scale":{"domain":[0,50]},"axis":{"values":[0,25,50],"labelExpr":"datum.value+''","title":null}},"y":{"field":"z","type":"quantitative","scale":{"domain":[0,0.8]},"axis":{"values":[0,0.4,0.8],"labelExpr":"datum.value+''","title":null}}},
       "layer":[{"transform":[{"filter":"datum.yr"}],"mark":{"type":"square","style":"msq"},"encoding":{"fill":{"condition":{"test":"datum.hi","value":"#000"},"value":"#D95319"},"order":{"field":"hi","type":"quantitative"}}},{"transform":[{"filter":"datum.F2"}],"mark":{"type":"rule","style":"fit","clip":true},"encoding":{"x2":{"field":"F2"},"y2":{"field":"z2"}}}]},
      {"transform":[{"filter":"datum.yr"}],"encoding":{"x":{"field":"yr","type":"ordinal","scale":{"type":"point","padding":0.5,"range":[67,199]},"axis":{"orient":"bottom","offset":-27,"labelAngle":-90,"labelAlign":"right","labelBaseline":"middle","labelFontSize":11,"labelPadding":3,"labelOverlap":false,"labelExpr":"substring(datum.label,0,4)","ticks":false,"title":null}},"y":{"field":"E","type":"quantitative","scale":{"domain":[0,0.4],"range":[133,72]},"axis":{"orient":"left","offset":-67,"values":[0,0.1,0.2,0.3,0.4],"labelExpr":"datum.value+''","labelFontSize":11,"labelPadding":3,"grid":true,"gridColor":"#e6e6e6","ticks":false,"title":["E_best","n/2"],"titleAngle":0,"titleX":-38,"titleY":102,"titleAlign":"center","titleBaseline":"middle","titleFontSize":9.5,"titleLineHeight":11}}},
       "layer":[{"mark":{"type":"rule","color":"#e6e6e6"},"encoding":{"y":{"datum":0},"y2":{"datum":0.4}}},{"mark":{"type":"line","style":"iln"}},{"mark":{"type":"square","style":"isq"},"encoding":{"fill":{"condition":{"test":"datum.hi","value":"#000"},"value":"#4DBEEE"},"order":{"field":"hi","type":"quantitative"}}}]},
      {"data":{"values":[{}]},"encoding":{"x":{"datum":0,"type":"quantitative","scale":{"domain":[0,1],"range":[67,199]},"axis":null},"x2":{"datum":1}},
       "layer":[{"mark":{"type":"rect","filled":false,"color":"#7a7a7a"},"encoding":{"y":{"datum":0,"type":"quantitative","scale":{"domain":[0,0.4],"range":[133,72]},"axis":null},"y2":{"datum":0.4}}},{"mark":{"type":"rule","style":"thr"},"encoding":{"y":{"datum":0.05,"type":"quantitative","scale":{"domain":[0,0.4],"range":[133,72]},"axis":null}}}]}]},
    {"width":202,"height":160,"title":{"text":"Czech Republic","subtitle":"rζ,F = 1.00"},"transform":[{"filter":"datum.c=='Czech Republic'"}],"resolve":{"scale":{"x":"independent","y":"independent"}},"layer":[
      {"encoding":{"x":{"field":"F","type":"quantitative","scale":{"domain":[0,70]},"axis":{"values":[0,35,70],"labelExpr":"datum.value+''","title":null}},"y":{"field":"z","type":"quantitative","scale":{"domain":[0,0.9]},"axis":{"values":[0,0.45,0.9],"labelExpr":"datum.value+''","title":null}}},
       "layer":[{"transform":[{"filter":"datum.yr"}],"mark":{"type":"square","style":"msq"},"encoding":{"fill":{"condition":{"test":"datum.hi","value":"#000"},"value":"#D95319"},"order":{"field":"hi","type":"quantitative"}}},{"transform":[{"filter":"datum.F2"}],"mark":{"type":"rule","style":"fit","clip":true},"encoding":{"x2":{"field":"F2"},"y2":{"field":"z2"}}}]},
      {"transform":[{"filter":"datum.yr"}],"encoding":{"x":{"field":"yr","type":"ordinal","scale":{"type":"point","padding":0.5,"range":[67,199]},"axis":{"orient":"bottom","offset":-27,"labelAngle":-90,"labelAlign":"right","labelBaseline":"middle","labelFontSize":11,"labelPadding":3,"labelOverlap":false,"labelExpr":"substring(datum.label,0,4)","ticks":false,"title":null}},"y":{"field":"E","type":"quantitative","scale":{"domain":[0,0.4],"range":[133,72]},"axis":{"orient":"left","offset":-67,"values":[0,0.1,0.2,0.3,0.4],"labelExpr":"datum.value+''","labelFontSize":11,"labelPadding":3,"grid":true,"gridColor":"#e6e6e6","ticks":false,"title":["E_best","n/2"],"titleAngle":0,"titleX":-38,"titleY":102,"titleAlign":"center","titleBaseline":"middle","titleFontSize":9.5,"titleLineHeight":11}}},
       "layer":[{"mark":{"type":"rule","color":"#e6e6e6"},"encoding":{"y":{"datum":0},"y2":{"datum":0.4}}},{"mark":{"type":"line","style":"iln"}},{"mark":{"type":"square","style":"isq"},"encoding":{"fill":{"condition":{"test":"datum.hi","value":"#000"},"value":"#4DBEEE"},"order":{"field":"hi","type":"quantitative"}}}]},
      {"data":{"values":[{}]},"encoding":{"x":{"datum":0,"type":"quantitative","scale":{"domain":[0,1],"range":[67,199]},"axis":null},"x2":{"datum":1}},
       "layer":[{"mark":{"type":"rect","filled":false,"color":"#7a7a7a"},"encoding":{"y":{"datum":0,"type":"quantitative","scale":{"domain":[0,0.4],"range":[133,72]},"axis":null},"y2":{"datum":0.4}}},{"mark":{"type":"rule","style":"thr"},"encoding":{"y":{"datum":0.05,"type":"quantitative","scale":{"domain":[0,0.4],"range":[133,72]},"axis":null}}}]}]},
    {"width":202,"height":160,"title":{"text":"Denmark","subtitle":"rζ,F = 1.00"},"transform":[{"filter":"datum.c=='Denmark'"}],"resolve":{"scale":{"x":"independent","y":"independent"}},"layer":[
      {"encoding":{"x":{"field":"F","type":"quantitative","scale":{"domain":[0,70]},"axis":{"values":[0,35,70],"labelExpr":"datum.value+''","title":null}},"y":{"field":"z","type":"quantitative","scale":{"domain":[0,0.9]},"axis":{"values":[0,0.45,0.9],"labelExpr":"datum.value+''","title":null}}},
       "layer":[{"transform":[{"filter":"datum.yr"}],"mark":{"type":"square","style":"msq"},"encoding":{"fill":{"condition":{"test":"datum.hi","value":"#000"},"value":"#D95319"},"order":{"field":"hi","type":"quantitative"}}},{"transform":[{"filter":"datum.F2"}],"mark":{"type":"rule","style":"fit","clip":true},"encoding":{"x2":{"field":"F2"},"y2":{"field":"z2"}}}]},
      {"transform":[{"filter":"datum.yr"}],"encoding":{"x":{"field":"yr","type":"ordinal","scale":{"type":"point","padding":0.5,"range":[67,199]},"axis":{"orient":"bottom","offset":-27,"labelAngle":-90,"labelAlign":"right","labelBaseline":"middle","labelFontSize":11,"labelPadding":3,"labelOverlap":false,"labelExpr":"substring(datum.label,0,4)","ticks":false,"title":null}},"y":{"field":"E","type":"quantitative","scale":{"domain":[0,0.4],"range":[133,72]},"axis":{"orient":"left","offset":-67,"values":[0,0.1,0.2,0.3,0.4],"labelExpr":"datum.value+''","labelFontSize":11,"labelPadding":3,"grid":true,"gridColor":"#e6e6e6","ticks":false,"title":["E_best","n/2"],"titleAngle":0,"titleX":-38,"titleY":102,"titleAlign":"center","titleBaseline":"middle","titleFontSize":9.5,"titleLineHeight":11}}},
       "layer":[{"mark":{"type":"rule","color":"#e6e6e6"},"encoding":{"y":{"datum":0},"y2":{"datum":0.4}}},{"mark":{"type":"line","style":"iln"}},{"mark":{"type":"square","style":"isq"},"encoding":{"fill":{"condition":{"test":"datum.hi","value":"#000"},"value":"#4DBEEE"},"order":{"field":"hi","type":"quantitative"}}}]},
      {"data":{"values":[{}]},"encoding":{"x":{"datum":0,"type":"quantitative","scale":{"domain":[0,1],"range":[67,199]},"axis":null},"x2":{"datum":1}},
       "layer":[{"mark":{"type":"rect","filled":false,"color":"#7a7a7a"},"encoding":{"y":{"datum":0,"type":"quantitative","scale":{"domain":[0,0.4],"range":[133,72]},"axis":null},"y2":{"datum":0.4}}},{"mark":{"type":"rule","style":"thr"},"encoding":{"y":{"datum":0.05,"type":"quantitative","scale":{"domain":[0,0.4],"range":[133,72]},"axis":null}}}]}]},
    {"width":202,"height":160,"title":{"text":"Estonia","subtitle":"rζ,F = 1.00"},"transform":[{"filter":"datum.c=='Estonia'"}],"resolve":{"scale":{"x":"independent","y":"independent"}},"layer":[
      {"encoding":{"x":{"field":"F","type":"quantitative","scale":{"domain":[0,40]},"axis":{"values":[0,20,40],"labelExpr":"datum.value+''","title":null}},"y":{"field":"z","type":"quantitative","scale":{"domain":[0,0.9]},"axis":{"values":[0,0.45,0.9],"labelExpr":"datum.value+''","title":null}}},
       "layer":[{"transform":[{"filter":"datum.yr"}],"mark":{"type":"square","style":"msq"},"encoding":{"fill":{"condition":{"test":"datum.hi","value":"#000"},"value":"#D95319"},"order":{"field":"hi","type":"quantitative"}}},{"transform":[{"filter":"datum.F2"}],"mark":{"type":"rule","style":"fit","clip":true},"encoding":{"x2":{"field":"F2"},"y2":{"field":"z2"}}}]},
      {"transform":[{"filter":"datum.yr"}],"encoding":{"x":{"field":"yr","type":"ordinal","scale":{"type":"point","padding":0.5,"range":[67,199]},"axis":{"orient":"bottom","offset":-27,"labelAngle":-90,"labelAlign":"right","labelBaseline":"middle","labelFontSize":11,"labelPadding":3,"labelOverlap":false,"labelExpr":"substring(datum.label,0,4)","ticks":false,"title":null}},"y":{"field":"E","type":"quantitative","scale":{"domain":[0,0.4],"range":[133,72]},"axis":{"orient":"left","offset":-67,"values":[0,0.1,0.2,0.3,0.4],"labelExpr":"datum.value+''","labelFontSize":11,"labelPadding":3,"grid":true,"gridColor":"#e6e6e6","ticks":false,"title":["E_best","n/2"],"titleAngle":0,"titleX":-38,"titleY":102,"titleAlign":"center","titleBaseline":"middle","titleFontSize":9.5,"titleLineHeight":11}}},
       "layer":[{"mark":{"type":"rule","color":"#e6e6e6"},"encoding":{"y":{"datum":0},"y2":{"datum":0.4}}},{"mark":{"type":"line","style":"iln"}},{"mark":{"type":"square","style":"isq"},"encoding":{"fill":{"condition":{"test":"datum.hi","value":"#000"},"value":"#4DBEEE"},"order":{"field":"hi","type":"quantitative"}}}]},
      {"data":{"values":[{}]},"encoding":{"x":{"datum":0,"type":"quantitative","scale":{"domain":[0,1],"range":[67,199]},"axis":null},"x2":{"datum":1}},
       "layer":[{"mark":{"type":"rect","filled":false,"color":"#7a7a7a"},"encoding":{"y":{"datum":0,"type":"quantitative","scale":{"domain":[0,0.4],"range":[133,72]},"axis":null},"y2":{"datum":0.4}}},{"mark":{"type":"rule","style":"thr"},"encoding":{"y":{"datum":0.05,"type":"quantitative","scale":{"domain":[0,0.4],"range":[133,72]},"axis":null}}}]}]},
    {"width":202,"height":160,"title":{"text":"Finland","subtitle":"rζ,F = 1.00"},"transform":[{"filter":"datum.c=='Finland'"}],"resolve":{"scale":{"x":"independent","y":"independent"}},"layer":[
      {"encoding":{"x":{"field":"F","type":"quantitative","scale":{"domain":[0,70]},"axis":{"values":[0,35,70],"labelExpr":"datum.value+''","title":null}},"y":{"field":"z","type":"quantitative","scale":{"domain":[0,0.9]},"axis":{"values":[0,0.45,0.9],"labelExpr":"datum.value+''","title":"fractionalization index","titleX":-40,"titleY":80,"titleAngle":-90,"titleBaseline":"middle","titleAlign":"center"}}},
       "layer":[{"transform":[{"filter":"datum.yr"}],"mark":{"type":"square","style":"msq"},"encoding":{"fill":{"condition":{"test":"datum.hi","value":"#000"},"value":"#D95319"},"order":{"field":"hi","type":"quantitative"}}},{"transform":[{"filter":"datum.F2"}],"mark":{"type":"rule","style":"fit","clip":true},"encoding":{"x2":{"field":"F2"},"y2":{"field":"z2"}}}]},
      {"transform":[{"filter":"datum.yr"}],"encoding":{"x":{"field":"yr","type":"ordinal","scale":{"type":"point","padding":0.5,"range":[67,199]},"axis":{"orient":"bottom","offset":-27,"labelAngle":-90,"labelAlign":"right","labelBaseline":"middle","labelFontSize":11,"labelPadding":3,"labelOverlap":false,"labelExpr":"substring(datum.label,0,4)","ticks":false,"title":null}},"y":{"field":"E","type":"quantitative","scale":{"domain":[0,0.4],"range":[133,72]},"axis":{"orient":"left","offset":-67,"values":[0,0.1,0.2,0.3,0.4],"labelExpr":"datum.value+''","labelFontSize":11,"labelPadding":3,"grid":true,"gridColor":"#e6e6e6","ticks":false,"title":["E_best","n/2"],"titleAngle":0,"titleX":-38,"titleY":102,"titleAlign":"center","titleBaseline":"middle","titleFontSize":9.5,"titleLineHeight":11}}},
       "layer":[{"mark":{"type":"rule","color":"#e6e6e6"},"encoding":{"y":{"datum":0},"y2":{"datum":0.4}}},{"mark":{"type":"line","style":"iln"}},{"mark":{"type":"square","style":"isq"},"encoding":{"fill":{"condition":{"test":"datum.hi","value":"#000"},"value":"#4DBEEE"},"order":{"field":"hi","type":"quantitative"}}}]},
      {"data":{"values":[{}]},"encoding":{"x":{"datum":0,"type":"quantitative","scale":{"domain":[0,1],"range":[67,199]},"axis":null},"x2":{"datum":1}},
       "layer":[{"mark":{"type":"rect","filled":false,"color":"#7a7a7a"},"encoding":{"y":{"datum":0,"type":"quantitative","scale":{"domain":[0,0.4],"range":[133,72]},"axis":null},"y2":{"datum":0.4}}},{"mark":{"type":"rule","style":"thr"},"encoding":{"y":{"datum":0.05,"type":"quantitative","scale":{"domain":[0,0.4],"range":[133,72]},"axis":null}}}]}]},
    {"width":202,"height":160,"title":{"text":"Germany","subtitle":"rζ,F = 0.98"},"transform":[{"filter":"datum.c=='Germany'"}],"resolve":{"scale":{"x":"independent","y":"independent"}},"layer":[
      {"encoding":{"x":{"field":"F","type":"quantitative","scale":{"domain":[0,300]},"axis":{"values":[0,150,300],"labelExpr":"datum.value+''","title":null}},"y":{"field":"z","type":"quantitative","scale":{"domain":[0,0.8]},"axis":{"values":[0,0.4,0.8],"labelExpr":"datum.value+''","title":null}}},
       "layer":[{"transform":[{"filter":"datum.yr"}],"mark":{"type":"square","style":"msq"},"encoding":{"fill":{"condition":{"test":"datum.hi","value":"#000"},"value":"#D95319"},"order":{"field":"hi","type":"quantitative"}}},{"transform":[{"filter":"datum.F2"}],"mark":{"type":"rule","style":"fit","clip":true},"encoding":{"x2":{"field":"F2"},"y2":{"field":"z2"}}}]},
      {"transform":[{"filter":"datum.yr"}],"encoding":{"x":{"field":"yr","type":"ordinal","scale":{"type":"point","padding":0.5,"range":[67,199]},"axis":{"orient":"bottom","offset":-27,"labelAngle":-90,"labelAlign":"right","labelBaseline":"middle","labelFontSize":11,"labelPadding":3,"labelOverlap":false,"labelExpr":"substring(datum.label,0,4)","ticks":false,"title":null}},"y":{"field":"E","type":"quantitative","scale":{"domain":[0,0.4],"range":[133,72]},"axis":{"orient":"left","offset":-67,"values":[0,0.1,0.2,0.3,0.4],"labelExpr":"datum.value+''","labelFontSize":11,"labelPadding":3,"grid":true,"gridColor":"#e6e6e6","ticks":false,"title":["E_best","n/2"],"titleAngle":0,"titleX":-38,"titleY":102,"titleAlign":"center","titleBaseline":"middle","titleFontSize":9.5,"titleLineHeight":11}}},
       "layer":[{"mark":{"type":"rule","color":"#e6e6e6"},"encoding":{"y":{"datum":0},"y2":{"datum":0.4}}},{"mark":{"type":"line","style":"iln"}},{"mark":{"type":"square","style":"isq"},"encoding":{"fill":{"condition":{"test":"datum.hi","value":"#000"},"value":"#4DBEEE"},"order":{"field":"hi","type":"quantitative"}}}]},
      {"data":{"values":[{}]},"encoding":{"x":{"datum":0,"type":"quantitative","scale":{"domain":[0,1],"range":[67,199]},"axis":null},"x2":{"datum":1}},
       "layer":[{"mark":{"type":"rect","filled":false,"color":"#7a7a7a"},"encoding":{"y":{"datum":0,"type":"quantitative","scale":{"domain":[0,0.4],"range":[133,72]},"axis":null},"y2":{"datum":0.4}}},{"mark":{"type":"rule","style":"thr"},"encoding":{"y":{"datum":0.05,"type":"quantitative","scale":{"domain":[0,0.4],"range":[133,72]},"axis":null}}}]}]},
    {"width":202,"height":160,"title":{"text":"Greece","subtitle":"rζ,F = 1.00"},"transform":[{"filter":"datum.c=='Greece'"}],"resolve":{"scale":{"x":"independent","y":"independent"}},"layer":[
      {"encoding":{"x":{"field":"F","type":"quantitative","scale":{"domain":[0,100]},"axis":{"values":[0,50,100],"labelExpr":"datum.value+''","title":null}},"y":{"field":"z","type":"quantitative","scale":{"domain":[0,0.8]},"axis":{"values":[0,0.4,0.8],"labelExpr":"datum.value+''","title":null}}},
       "layer":[{"transform":[{"filter":"datum.yr"}],"mark":{"type":"square","style":"msq"},"encoding":{"fill":{"condition":{"test":"datum.hi","value":"#000"},"value":"#D95319"},"order":{"field":"hi","type":"quantitative"}}},{"transform":[{"filter":"datum.F2"}],"mark":{"type":"rule","style":"fit","clip":true},"encoding":{"x2":{"field":"F2"},"y2":{"field":"z2"}}}]},
      {"transform":[{"filter":"datum.yr"}],"encoding":{"x":{"field":"yr","type":"ordinal","scale":{"type":"point","padding":0.5,"range":[67,199]},"axis":{"orient":"bottom","offset":-27,"labelAngle":-90,"labelAlign":"right","labelBaseline":"middle","labelFontSize":11,"labelPadding":3,"labelOverlap":false,"labelExpr":"substring(datum.label,0,4)","ticks":false,"title":null}},"y":{"field":"E","type":"quantitative","scale":{"domain":[0,0.4],"range":[133,72]},"axis":{"orient":"left","offset":-67,"values":[0,0.1,0.2,0.3,0.4],"labelExpr":"datum.value+''","labelFontSize":11,"labelPadding":3,"grid":true,"gridColor":"#e6e6e6","ticks":false,"title":["E_best","n/2"],"titleAngle":0,"titleX":-38,"titleY":102,"titleAlign":"center","titleBaseline":"middle","titleFontSize":9.5,"titleLineHeight":11}}},
       "layer":[{"mark":{"type":"rule","color":"#e6e6e6"},"encoding":{"y":{"datum":0},"y2":{"datum":0.4}}},{"mark":{"type":"line","style":"iln"}},{"mark":{"type":"square","style":"isq"},"encoding":{"fill":{"condition":{"test":"datum.hi","value":"#000"},"value":"#4DBEEE"},"order":{"field":"hi","type":"quantitative"}}}]},
      {"data":{"values":[{}]},"encoding":{"x":{"datum":0,"type":"quantitative","scale":{"domain":[0,1],"range":[67,199]},"axis":null},"x2":{"datum":1}},
       "layer":[{"mark":{"type":"rect","filled":false,"color":"#7a7a7a"},"encoding":{"y":{"datum":0,"type":"quantitative","scale":{"domain":[0,0.4],"range":[133,72]},"axis":null},"y2":{"datum":0.4}}},{"mark":{"type":"rule","style":"thr"},"encoding":{"y":{"datum":0.05,"type":"quantitative","scale":{"domain":[0,0.4],"range":[133,72]},"axis":null}}}]}]},
    {"width":202,"height":160,"title":{"text":"Hungary","subtitle":"rζ,F = 0.99"},"transform":[{"filter":"datum.c=='Hungary'"}],"resolve":{"scale":{"x":"independent","y":"independent"}},"layer":[
      {"encoding":{"x":{"field":"F","type":"quantitative","scale":{"domain":[0,100]},"axis":{"values":[0,50,100],"labelExpr":"datum.value+''","title":null}},"y":{"field":"z","type":"quantitative","scale":{"domain":[0,0.8]},"axis":{"values":[0,0.4,0.8],"labelExpr":"datum.value+''","title":null}}},
       "layer":[{"transform":[{"filter":"datum.yr"}],"mark":{"type":"square","style":"msq"},"encoding":{"fill":{"condition":{"test":"datum.hi","value":"#000"},"value":"#D95319"},"order":{"field":"hi","type":"quantitative"}}},{"transform":[{"filter":"datum.F2"}],"mark":{"type":"rule","style":"fit","clip":true},"encoding":{"x2":{"field":"F2"},"y2":{"field":"z2"}}}]},
      {"transform":[{"filter":"datum.yr"}],"encoding":{"x":{"field":"yr","type":"ordinal","scale":{"type":"point","padding":0.5,"range":[67,199]},"axis":{"orient":"bottom","offset":-27,"labelAngle":-90,"labelAlign":"right","labelBaseline":"middle","labelFontSize":11,"labelPadding":3,"labelOverlap":false,"labelExpr":"substring(datum.label,0,4)","ticks":false,"title":null}},"y":{"field":"E","type":"quantitative","scale":{"domain":[0,0.4],"range":[133,72]},"axis":{"orient":"left","offset":-67,"values":[0,0.1,0.2,0.3,0.4],"labelExpr":"datum.value+''","labelFontSize":11,"labelPadding":3,"grid":true,"gridColor":"#e6e6e6","ticks":false,"title":["E_best","n/2"],"titleAngle":0,"titleX":-38,"titleY":102,"titleAlign":"center","titleBaseline":"middle","titleFontSize":9.5,"titleLineHeight":11}}},
       "layer":[{"mark":{"type":"rule","color":"#e6e6e6"},"encoding":{"y":{"datum":0},"y2":{"datum":0.4}}},{"mark":{"type":"line","style":"iln"}},{"mark":{"type":"square","style":"isq"},"encoding":{"fill":{"condition":{"test":"datum.hi","value":"#000"},"value":"#4DBEEE"},"order":{"field":"hi","type":"quantitative"}}}]},
      {"data":{"values":[{}]},"encoding":{"x":{"datum":0,"type":"quantitative","scale":{"domain":[0,1],"range":[67,199]},"axis":null},"x2":{"datum":1}},
       "layer":[{"mark":{"type":"rect","filled":false,"color":"#7a7a7a"},"encoding":{"y":{"datum":0,"type":"quantitative","scale":{"domain":[0,0.4],"range":[133,72]},"axis":null},"y2":{"datum":0.4}}},{"mark":{"type":"rule","style":"thr"},"encoding":{"y":{"datum":0.05,"type":"quantitative","scale":{"domain":[0,0.4],"range":[133,72]},"axis":null}}}]}]},
    {"width":202,"height":160,"title":{"text":"Iceland","subtitle":"rζ,F = 1.00"},"transform":[{"filter":"datum.c=='Iceland'"}],"resolve":{"scale":{"x":"independent","y":"independent"}},"layer":[
      {"encoding":{"x":{"field":"F","type":"quantitative","scale":{"domain":[0,30]},"axis":{"values":[0,15,30],"labelExpr":"datum.value+''","title":null}},"y":{"field":"z","type":"quantitative","scale":{"domain":[0,0.9]},"axis":{"values":[0,0.45,0.9],"labelExpr":"datum.value+''","title":null}}},
       "layer":[{"transform":[{"filter":"datum.yr"}],"mark":{"type":"square","style":"msq"},"encoding":{"fill":{"condition":{"test":"datum.hi","value":"#000"},"value":"#D95319"},"order":{"field":"hi","type":"quantitative"}}},{"transform":[{"filter":"datum.F2"}],"mark":{"type":"rule","style":"fit","clip":true},"encoding":{"x2":{"field":"F2"},"y2":{"field":"z2"}}}]},
      {"transform":[{"filter":"datum.yr"}],"encoding":{"x":{"field":"yr","type":"ordinal","scale":{"type":"point","padding":0.5,"range":[67,199]},"axis":{"orient":"bottom","offset":-27,"labelAngle":-90,"labelAlign":"right","labelBaseline":"middle","labelFontSize":11,"labelPadding":3,"labelOverlap":false,"labelExpr":"substring(datum.label,0,4)","ticks":false,"title":null}},"y":{"field":"E","type":"quantitative","scale":{"domain":[0,0.4],"range":[133,72]},"axis":{"orient":"left","offset":-67,"values":[0,0.1,0.2,0.3,0.4],"labelExpr":"datum.value+''","labelFontSize":11,"labelPadding":3,"grid":true,"gridColor":"#e6e6e6","ticks":false,"title":["E_best","n/2"],"titleAngle":0,"titleX":-38,"titleY":102,"titleAlign":"center","titleBaseline":"middle","titleFontSize":9.5,"titleLineHeight":11}}},
       "layer":[{"mark":{"type":"rule","color":"#e6e6e6"},"encoding":{"y":{"datum":0},"y2":{"datum":0.4}}},{"mark":{"type":"line","style":"iln"}},{"mark":{"type":"square","style":"isq"},"encoding":{"fill":{"condition":{"test":"datum.hi","value":"#000"},"value":"#4DBEEE"},"order":{"field":"hi","type":"quantitative"}}}]},
      {"data":{"values":[{}]},"encoding":{"x":{"datum":0,"type":"quantitative","scale":{"domain":[0,1],"range":[67,199]},"axis":null},"x2":{"datum":1}},
       "layer":[{"mark":{"type":"rect","filled":false,"color":"#7a7a7a"},"encoding":{"y":{"datum":0,"type":"quantitative","scale":{"domain":[0,0.4],"range":[133,72]},"axis":null},"y2":{"datum":0.4}}},{"mark":{"type":"rule","style":"thr"},"encoding":{"y":{"datum":0.05,"type":"quantitative","scale":{"domain":[0,0.4],"range":[133,72]},"axis":null}}}]}]},
    {"width":202,"height":160,"title":{"text":"Ireland","subtitle":"rζ,F = 1.00"},"transform":[{"filter":"datum.c=='Ireland'"}],"resolve":{"scale":{"x":"independent","y":"independent"}},"layer":[
      {"encoding":{"x":{"field":"F","type":"quantitative","scale":{"domain":[0,60]},"axis":{"values":[0,30,60],"labelExpr":"datum.value+''","title":null}},"y":{"field":"z","type":"quantitative","scale":{"domain":[0,0.9]},"axis":{"values":[0,0.45,0.9],"labelExpr":"datum.value+''","title":"fractionalization index","titleX":-40,"titleY":80,"titleAngle":-90,"titleBaseline":"middle","titleAlign":"center"}}},
       "layer":[{"transform":[{"filter":"datum.yr"}],"mark":{"type":"square","style":"msq"},"encoding":{"fill":{"condition":{"test":"datum.hi","value":"#000"},"value":"#D95319"},"order":{"field":"hi","type":"quantitative"}}},{"transform":[{"filter":"datum.F2"}],"mark":{"type":"rule","style":"fit","clip":true},"encoding":{"x2":{"field":"F2"},"y2":{"field":"z2"}}}]},
      {"transform":[{"filter":"datum.yr"}],"encoding":{"x":{"field":"yr","type":"ordinal","scale":{"type":"point","padding":0.5,"range":[67,199]},"axis":{"orient":"bottom","offset":-27,"labelAngle":-90,"labelAlign":"right","labelBaseline":"middle","labelFontSize":11,"labelPadding":3,"labelOverlap":false,"labelExpr":"substring(datum.label,0,4)","ticks":false,"title":null}},"y":{"field":"E","type":"quantitative","scale":{"domain":[0,0.4],"range":[133,72]},"axis":{"orient":"left","offset":-67,"values":[0,0.1,0.2,0.3,0.4],"labelExpr":"datum.value+''","labelFontSize":11,"labelPadding":3,"grid":true,"gridColor":"#e6e6e6","ticks":false,"title":["E_best","n/2"],"titleAngle":0,"titleX":-38,"titleY":102,"titleAlign":"center","titleBaseline":"middle","titleFontSize":9.5,"titleLineHeight":11}}},
       "layer":[{"mark":{"type":"rule","color":"#e6e6e6"},"encoding":{"y":{"datum":0},"y2":{"datum":0.4}}},{"mark":{"type":"line","style":"iln"}},{"mark":{"type":"square","style":"isq"},"encoding":{"fill":{"condition":{"test":"datum.hi","value":"#000"},"value":"#4DBEEE"},"order":{"field":"hi","type":"quantitative"}}}]},
      {"data":{"values":[{}]},"encoding":{"x":{"datum":0,"type":"quantitative","scale":{"domain":[0,1],"range":[67,199]},"axis":null},"x2":{"datum":1}},
       "layer":[{"mark":{"type":"rect","filled":false,"color":"#7a7a7a"},"encoding":{"y":{"datum":0,"type":"quantitative","scale":{"domain":[0,0.4],"range":[133,72]},"axis":null},"y2":{"datum":0.4}}},{"mark":{"type":"rule","style":"thr"},"encoding":{"y":{"datum":0.05,"type":"quantitative","scale":{"domain":[0,0.4],"range":[133,72]},"axis":null}}}]}]},
    {"width":202,"height":160,"title":{"text":"Italy","subtitle":"rζ,F = 1.00"},"transform":[{"filter":"datum.c=='Italy'"}],"resolve":{"scale":{"x":"independent","y":"independent"}},"layer":[
      {"encoding":{"x":{"field":"F","type":"quantitative","scale":{"domain":[0,300]},"axis":{"values":[0,150,300],"labelExpr":"datum.value+''","title":null}},"y":{"field":"z","type":"quantitative","scale":{"domain":[0,0.9]},"axis":{"values":[0,0.45,0.9],"labelExpr":"datum.value+''","title":null}}},
       "layer":[{"transform":[{"filter":"datum.yr"}],"mark":{"type":"square","style":"msq"},"encoding":{"fill":{"condition":{"test":"datum.hi","value":"#000"},"value":"#D95319"},"order":{"field":"hi","type":"quantitative"}}},{"transform":[{"filter":"datum.F2"}],"mark":{"type":"rule","style":"fit","clip":true},"encoding":{"x2":{"field":"F2"},"y2":{"field":"z2"}}}]},
      {"transform":[{"filter":"datum.yr"}],"encoding":{"x":{"field":"yr","type":"ordinal","scale":{"type":"point","padding":0.5,"range":[67,199]},"axis":{"orient":"bottom","offset":-27,"labelAngle":-90,"labelAlign":"right","labelBaseline":"middle","labelFontSize":11,"labelPadding":3,"labelOverlap":false,"labelExpr":"substring(datum.label,0,4)","ticks":false,"title":null}},"y":{"field":"E","type":"quantitative","scale":{"domain":[0,0.4],"range":[133,72]},"axis":{"orient":"left","offset":-67,"values":[0,0.1,0.2,0.3,0.4],"labelExpr":"datum.value+''","labelFontSize":11,"labelPadding":3,"grid":true,"gridColor":"#e6e6e6","ticks":false,"title":["E_best","n/2"],"titleAngle":0,"titleX":-38,"titleY":102,"titleAlign":"center","titleBaseline":"middle","titleFontSize":9.5,"titleLineHeight":11}}},
       "layer":[{"mark":{"type":"rule","color":"#e6e6e6"},"encoding":{"y":{"datum":0},"y2":{"datum":0.4}}},{"mark":{"type":"line","style":"iln"}},{"mark":{"type":"square","style":"isq"},"encoding":{"fill":{"condition":{"test":"datum.hi","value":"#000"},"value":"#4DBEEE"},"order":{"field":"hi","type":"quantitative"}}}]},
      {"data":{"values":[{}]},"encoding":{"x":{"datum":0,"type":"quantitative","scale":{"domain":[0,1],"range":[67,199]},"axis":null},"x2":{"datum":1}},
       "layer":[{"mark":{"type":"rect","filled":false,"color":"#7a7a7a"},"encoding":{"y":{"datum":0,"type":"quantitative","scale":{"domain":[0,0.4],"range":[133,72]},"axis":null},"y2":{"datum":0.4}}},{"mark":{"type":"rule","style":"thr"},"encoding":{"y":{"datum":0.05,"type":"quantitative","scale":{"domain":[0,0.4],"range":[133,72]},"axis":null}}}]}]},
    {"width":202,"height":160,"title":{"text":"Latvia","subtitle":"rζ,F = 1.00"},"transform":[{"filter":"datum.c=='Latvia'"}],"resolve":{"scale":{"x":"independent","y":"independent"}},"layer":[
      {"encoding":{"x":{"field":"F","type":"quantitative","scale":{"domain":[0,40]},"axis":{"values":[0,20,40],"labelExpr":"datum.value+''","title":null}},"y":{"field":"z","type":"quantitative","scale":{"domain":[0,0.9]},"axis":{"values":[0,0.45,0.9],"labelExpr":"datum.value+''","title":null}}},
       "layer":[{"transform":[{"filter":"datum.yr"}],"mark":{"type":"square","style":"msq"},"encoding":{"fill":{"condition":{"test":"datum.hi","value":"#000"},"value":"#D95319"},"order":{"field":"hi","type":"quantitative"}}},{"transform":[{"filter":"datum.F2"}],"mark":{"type":"rule","style":"fit","clip":true},"encoding":{"x2":{"field":"F2"},"y2":{"field":"z2"}}}]},
      {"transform":[{"filter":"datum.yr"}],"encoding":{"x":{"field":"yr","type":"ordinal","scale":{"type":"point","padding":0.5,"range":[67,199]},"axis":{"orient":"bottom","offset":-27,"labelAngle":-90,"labelAlign":"right","labelBaseline":"middle","labelFontSize":11,"labelPadding":3,"labelOverlap":false,"labelExpr":"substring(datum.label,0,4)","ticks":false,"title":null}},"y":{"field":"E","type":"quantitative","scale":{"domain":[0,0.4],"range":[133,72]},"axis":{"orient":"left","offset":-67,"values":[0,0.1,0.2,0.3,0.4],"labelExpr":"datum.value+''","labelFontSize":11,"labelPadding":3,"grid":true,"gridColor":"#e6e6e6","ticks":false,"title":["E_best","n/2"],"titleAngle":0,"titleX":-38,"titleY":102,"titleAlign":"center","titleBaseline":"middle","titleFontSize":9.5,"titleLineHeight":11}}},
       "layer":[{"mark":{"type":"rule","color":"#e6e6e6"},"encoding":{"y":{"datum":0},"y2":{"datum":0.4}}},{"mark":{"type":"line","style":"iln"}},{"mark":{"type":"square","style":"isq"},"encoding":{"fill":{"condition":{"test":"datum.hi","value":"#000"},"value":"#4DBEEE"},"order":{"field":"hi","type":"quantitative"}}}]},
      {"data":{"values":[{}]},"encoding":{"x":{"datum":0,"type":"quantitative","scale":{"domain":[0,1],"range":[67,199]},"axis":null},"x2":{"datum":1}},
       "layer":[{"mark":{"type":"rect","filled":false,"color":"#7a7a7a"},"encoding":{"y":{"datum":0,"type":"quantitative","scale":{"domain":[0,0.4],"range":[133,72]},"axis":null},"y2":{"datum":0.4}}},{"mark":{"type":"rule","style":"thr"},"encoding":{"y":{"datum":0.05,"type":"quantitative","scale":{"domain":[0,0.4],"range":[133,72]},"axis":null}}}]}]},
    {"width":202,"height":160,"title":{"text":"Luxembourg","subtitle":"rζ,F = 0.99"},"transform":[{"filter":"datum.c=='Luxembourg'"}],"resolve":{"scale":{"x":"independent","y":"independent"}},"layer":[
      {"encoding":{"x":{"field":"F","type":"quantitative","scale":{"domain":[0,20]},"axis":{"values":[0,10,20],"labelExpr":"datum.value+''","title":null}},"y":{"field":"z","type":"quantitative","scale":{"domain":[0,0.8]},"axis":{"values":[0,0.4,0.8],"labelExpr":"datum.value+''","title":null}}},
       "layer":[{"transform":[{"filter":"datum.yr"}],"mark":{"type":"square","style":"msq"},"encoding":{"fill":{"condition":{"test":"datum.hi","value":"#000"},"value":"#D95319"},"order":{"field":"hi","type":"quantitative"}}},{"transform":[{"filter":"datum.F2"}],"mark":{"type":"rule","style":"fit","clip":true},"encoding":{"x2":{"field":"F2"},"y2":{"field":"z2"}}}]},
      {"transform":[{"filter":"datum.yr"}],"encoding":{"x":{"field":"yr","type":"ordinal","scale":{"type":"point","padding":0.5,"range":[67,199]},"axis":{"orient":"bottom","offset":-27,"labelAngle":-90,"labelAlign":"right","labelBaseline":"middle","labelFontSize":11,"labelPadding":3,"labelOverlap":false,"labelExpr":"substring(datum.label,0,4)","ticks":false,"title":null}},"y":{"field":"E","type":"quantitative","scale":{"domain":[0,0.4],"range":[133,72]},"axis":{"orient":"left","offset":-67,"values":[0,0.1,0.2,0.3,0.4],"labelExpr":"datum.value+''","labelFontSize":11,"labelPadding":3,"grid":true,"gridColor":"#e6e6e6","ticks":false,"title":["E_best","n/2"],"titleAngle":0,"titleX":-38,"titleY":102,"titleAlign":"center","titleBaseline":"middle","titleFontSize":9.5,"titleLineHeight":11}}},
       "layer":[{"mark":{"type":"rule","color":"#e6e6e6"},"encoding":{"y":{"datum":0},"y2":{"datum":0.4}}},{"mark":{"type":"line","style":"iln"}},{"mark":{"type":"square","style":"isq"},"encoding":{"fill":{"condition":{"test":"datum.hi","value":"#000"},"value":"#4DBEEE"},"order":{"field":"hi","type":"quantitative"}}}]},
      {"data":{"values":[{}]},"encoding":{"x":{"datum":0,"type":"quantitative","scale":{"domain":[0,1],"range":[67,199]},"axis":null},"x2":{"datum":1}},
       "layer":[{"mark":{"type":"rect","filled":false,"color":"#7a7a7a"},"encoding":{"y":{"datum":0,"type":"quantitative","scale":{"domain":[0,0.4],"range":[133,72]},"axis":null},"y2":{"datum":0.4}}},{"mark":{"type":"rule","style":"thr"},"encoding":{"y":{"datum":0.05,"type":"quantitative","scale":{"domain":[0,0.4],"range":[133,72]},"axis":null}}}]}]},
    {"width":202,"height":160,"title":{"text":"North Macedonia","subtitle":"rζ,F = 0.96"},"transform":[{"filter":"datum.c=='North Macedonia'"}],"resolve":{"scale":{"x":"independent","y":"independent"}},"layer":[
      {"encoding":{"x":{"field":"F","type":"quantitative","scale":{"domain":[0,50]},"axis":{"values":[0,25,50],"labelExpr":"datum.value+''","title":null}},"y":{"field":"z","type":"quantitative","scale":{"domain":[0,0.9]},"axis":{"values":[0,0.45,0.9],"labelExpr":"datum.value+''","title":null}}},
       "layer":[{"transform":[{"filter":"datum.yr"}],"mark":{"type":"square","style":"msq"},"encoding":{"fill":{"condition":{"test":"datum.hi","value":"#000"},"value":"#D95319"},"order":{"field":"hi","type":"quantitative"}}},{"transform":[{"filter":"datum.F2"}],"mark":{"type":"rule","style":"fit","clip":true},"encoding":{"x2":{"field":"F2"},"y2":{"field":"z2"}}}]},
      {"transform":[{"filter":"datum.yr"}],"encoding":{"x":{"field":"yr","type":"ordinal","scale":{"type":"point","padding":0.5,"range":[67,199]},"axis":{"orient":"bottom","offset":-27,"labelAngle":-90,"labelAlign":"right","labelBaseline":"middle","labelFontSize":11,"labelPadding":3,"labelOverlap":false,"labelExpr":"substring(datum.label,0,4)","ticks":false,"title":null}},"y":{"field":"E","type":"quantitative","scale":{"domain":[0,0.4],"range":[133,72]},"axis":{"orient":"left","offset":-67,"values":[0,0.1,0.2,0.3,0.4],"labelExpr":"datum.value+''","labelFontSize":11,"labelPadding":3,"grid":true,"gridColor":"#e6e6e6","ticks":false,"title":["E_best","n/2"],"titleAngle":0,"titleX":-38,"titleY":102,"titleAlign":"center","titleBaseline":"middle","titleFontSize":9.5,"titleLineHeight":11}}},
       "layer":[{"mark":{"type":"rule","color":"#e6e6e6"},"encoding":{"y":{"datum":0},"y2":{"datum":0.4}}},{"mark":{"type":"line","style":"iln"}},{"mark":{"type":"square","style":"isq"},"encoding":{"fill":{"condition":{"test":"datum.hi","value":"#000"},"value":"#4DBEEE"},"order":{"field":"hi","type":"quantitative"}}}]},
      {"data":{"values":[{}]},"encoding":{"x":{"datum":0,"type":"quantitative","scale":{"domain":[0,1],"range":[67,199]},"axis":null},"x2":{"datum":1}},
       "layer":[{"mark":{"type":"rect","filled":false,"color":"#7a7a7a"},"encoding":{"y":{"datum":0,"type":"quantitative","scale":{"domain":[0,0.4],"range":[133,72]},"axis":null},"y2":{"datum":0.4}}},{"mark":{"type":"rule","style":"thr"},"encoding":{"y":{"datum":0.05,"type":"quantitative","scale":{"domain":[0,0.4],"range":[133,72]},"axis":null}}}]}]},
    {"width":202,"height":160,"title":{"text":"Moldova","subtitle":"rζ,F = 0.98"},"transform":[{"filter":"datum.c=='Moldova'"}],"resolve":{"scale":{"x":"independent","y":"independent"}},"layer":[
      {"encoding":{"x":{"field":"F","type":"quantitative","scale":{"domain":[0,30]},"axis":{"values":[0,15,30],"labelExpr":"datum.value+''","title":null}},"y":{"field":"z","type":"quantitative","scale":{"domain":[0,0.8]},"axis":{"values":[0,0.4,0.8],"labelExpr":"datum.value+''","title":"fractionalization index","titleX":-40,"titleY":80,"titleAngle":-90,"titleBaseline":"middle","titleAlign":"center"}}},
       "layer":[{"transform":[{"filter":"datum.yr"}],"mark":{"type":"square","style":"msq"},"encoding":{"fill":{"condition":{"test":"datum.hi","value":"#000"},"value":"#D95319"},"order":{"field":"hi","type":"quantitative"}}},{"transform":[{"filter":"datum.F2"}],"mark":{"type":"rule","style":"fit","clip":true},"encoding":{"x2":{"field":"F2"},"y2":{"field":"z2"}}}]},
      {"transform":[{"filter":"datum.yr"}],"encoding":{"x":{"field":"yr","type":"ordinal","scale":{"type":"point","padding":0.5,"range":[67,199]},"axis":{"orient":"bottom","offset":-27,"labelAngle":-90,"labelAlign":"right","labelBaseline":"middle","labelFontSize":11,"labelPadding":3,"labelOverlap":false,"labelExpr":"substring(datum.label,0,4)","ticks":false,"title":null}},"y":{"field":"E","type":"quantitative","scale":{"domain":[0,0.4],"range":[133,72]},"axis":{"orient":"left","offset":-67,"values":[0,0.1,0.2,0.3,0.4],"labelExpr":"datum.value+''","labelFontSize":11,"labelPadding":3,"grid":true,"gridColor":"#e6e6e6","ticks":false,"title":["E_best","n/2"],"titleAngle":0,"titleX":-38,"titleY":102,"titleAlign":"center","titleBaseline":"middle","titleFontSize":9.5,"titleLineHeight":11}}},
       "layer":[{"mark":{"type":"rule","color":"#e6e6e6"},"encoding":{"y":{"datum":0},"y2":{"datum":0.4}}},{"mark":{"type":"line","style":"iln"}},{"mark":{"type":"square","style":"isq"},"encoding":{"fill":{"condition":{"test":"datum.hi","value":"#000"},"value":"#4DBEEE"},"order":{"field":"hi","type":"quantitative"}}}]},
      {"data":{"values":[{}]},"encoding":{"x":{"datum":0,"type":"quantitative","scale":{"domain":[0,1],"range":[67,199]},"axis":null},"x2":{"datum":1}},
       "layer":[{"mark":{"type":"rect","filled":false,"color":"#7a7a7a"},"encoding":{"y":{"datum":0,"type":"quantitative","scale":{"domain":[0,0.4],"range":[133,72]},"axis":null},"y2":{"datum":0.4}}},{"mark":{"type":"rule","style":"thr"},"encoding":{"y":{"datum":0.05,"type":"quantitative","scale":{"domain":[0,0.4],"range":[133,72]},"axis":null}}}]}]},
    {"width":202,"height":160,"title":{"text":"Netherlands","subtitle":"rζ,F = 1.00"},"transform":[{"filter":"datum.c=='Netherlands'"}],"resolve":{"scale":{"x":"independent","y":"independent"}},"layer":[
      {"encoding":{"x":{"field":"F","type":"quantitative","scale":{"domain":[0,60]},"axis":{"values":[0,30,60],"labelExpr":"datum.value+''","title":null}},"y":{"field":"z","type":"quantitative","scale":{"domain":[0,0.9]},"axis":{"values":[0,0.45,0.9],"labelExpr":"datum.value+''","title":null}}},
       "layer":[{"transform":[{"filter":"datum.yr"}],"mark":{"type":"square","style":"msq"},"encoding":{"fill":{"condition":{"test":"datum.hi","value":"#000"},"value":"#D95319"},"order":{"field":"hi","type":"quantitative"}}},{"transform":[{"filter":"datum.F2"}],"mark":{"type":"rule","style":"fit","clip":true},"encoding":{"x2":{"field":"F2"},"y2":{"field":"z2"}}}]},
      {"transform":[{"filter":"datum.yr"}],"encoding":{"x":{"field":"yr","type":"ordinal","scale":{"type":"point","padding":0.5,"range":[67,199]},"axis":{"orient":"bottom","offset":-27,"labelAngle":-90,"labelAlign":"right","labelBaseline":"middle","labelFontSize":11,"labelPadding":3,"labelOverlap":false,"labelExpr":"substring(datum.label,0,4)","ticks":false,"title":null}},"y":{"field":"E","type":"quantitative","scale":{"domain":[0,0.4],"range":[133,72]},"axis":{"orient":"left","offset":-67,"values":[0,0.1,0.2,0.3,0.4],"labelExpr":"datum.value+''","labelFontSize":11,"labelPadding":3,"grid":true,"gridColor":"#e6e6e6","ticks":false,"title":["E_best","n/2"],"titleAngle":0,"titleX":-38,"titleY":102,"titleAlign":"center","titleBaseline":"middle","titleFontSize":9.5,"titleLineHeight":11}}},
       "layer":[{"mark":{"type":"rule","color":"#e6e6e6"},"encoding":{"y":{"datum":0},"y2":{"datum":0.4}}},{"mark":{"type":"line","style":"iln"}},{"mark":{"type":"square","style":"isq"},"encoding":{"fill":{"condition":{"test":"datum.hi","value":"#000"},"value":"#4DBEEE"},"order":{"field":"hi","type":"quantitative"}}}]},
      {"data":{"values":[{}]},"encoding":{"x":{"datum":0,"type":"quantitative","scale":{"domain":[0,1],"range":[67,199]},"axis":null},"x2":{"datum":1}},
       "layer":[{"mark":{"type":"rect","filled":false,"color":"#7a7a7a"},"encoding":{"y":{"datum":0,"type":"quantitative","scale":{"domain":[0,0.4],"range":[133,72]},"axis":null},"y2":{"datum":0.4}}},{"mark":{"type":"rule","style":"thr"},"encoding":{"y":{"datum":0.05,"type":"quantitative","scale":{"domain":[0,0.4],"range":[133,72]},"axis":null}}}]}]},
    {"width":202,"height":160,"title":{"text":"Norway","subtitle":"rζ,F = 1.00"},"transform":[{"filter":"datum.c=='Norway'"}],"resolve":{"scale":{"x":"independent","y":"independent"}},"layer":[
      {"encoding":{"x":{"field":"F","type":"quantitative","scale":{"domain":[0,60]},"axis":{"values":[0,30,60],"labelExpr":"datum.value+''","title":null}},"y":{"field":"z","type":"quantitative","scale":{"domain":[0,0.9]},"axis":{"values":[0,0.45,0.9],"labelExpr":"datum.value+''","title":null}}},
       "layer":[{"transform":[{"filter":"datum.yr"}],"mark":{"type":"square","style":"msq"},"encoding":{"fill":{"condition":{"test":"datum.hi","value":"#000"},"value":"#D95319"},"order":{"field":"hi","type":"quantitative"}}},{"transform":[{"filter":"datum.F2"}],"mark":{"type":"rule","style":"fit","clip":true},"encoding":{"x2":{"field":"F2"},"y2":{"field":"z2"}}}]},
      {"transform":[{"filter":"datum.yr"}],"encoding":{"x":{"field":"yr","type":"ordinal","scale":{"type":"point","padding":0.5,"range":[67,199]},"axis":{"orient":"bottom","offset":-27,"labelAngle":-90,"labelAlign":"right","labelBaseline":"middle","labelFontSize":11,"labelPadding":3,"labelOverlap":false,"labelExpr":"substring(datum.label,0,4)","ticks":false,"title":null}},"y":{"field":"E","type":"quantitative","scale":{"domain":[0,0.4],"range":[133,72]},"axis":{"orient":"left","offset":-67,"values":[0,0.1,0.2,0.3,0.4],"labelExpr":"datum.value+''","labelFontSize":11,"labelPadding":3,"grid":true,"gridColor":"#e6e6e6","ticks":false,"title":["E_best","n/2"],"titleAngle":0,"titleX":-38,"titleY":102,"titleAlign":"center","titleBaseline":"middle","titleFontSize":9.5,"titleLineHeight":11}}},
       "layer":[{"mark":{"type":"rule","color":"#e6e6e6"},"encoding":{"y":{"datum":0},"y2":{"datum":0.4}}},{"mark":{"type":"line","style":"iln"}},{"mark":{"type":"square","style":"isq"},"encoding":{"fill":{"condition":{"test":"datum.hi","value":"#000"},"value":"#4DBEEE"},"order":{"field":"hi","type":"quantitative"}}}]},
      {"data":{"values":[{}]},"encoding":{"x":{"datum":0,"type":"quantitative","scale":{"domain":[0,1],"range":[67,199]},"axis":null},"x2":{"datum":1}},
       "layer":[{"mark":{"type":"rect","filled":false,"color":"#7a7a7a"},"encoding":{"y":{"datum":0,"type":"quantitative","scale":{"domain":[0,0.4],"range":[133,72]},"axis":null},"y2":{"datum":0.4}}},{"mark":{"type":"rule","style":"thr"},"encoding":{"y":{"datum":0.05,"type":"quantitative","scale":{"domain":[0,0.4],"range":[133,72]},"axis":null}}}]}]},
    {"width":202,"height":160,"title":{"text":"Serbia","subtitle":"rζ,F = 0.98"},"transform":[{"filter":"datum.c=='Serbia'"}],"resolve":{"scale":{"x":"independent","y":"independent"}},"layer":[
      {"encoding":{"x":{"field":"F","type":"quantitative","scale":{"domain":[0,80]},"axis":{"values":[0,40,80],"labelExpr":"datum.value+''","title":null}},"y":{"field":"z","type":"quantitative","scale":{"domain":[0,0.8]},"axis":{"values":[0,0.4,0.8],"labelExpr":"datum.value+''","title":null}}},
       "layer":[{"transform":[{"filter":"datum.yr"}],"mark":{"type":"square","style":"msq"},"encoding":{"fill":{"condition":{"test":"datum.hi","value":"#000"},"value":"#D95319"},"order":{"field":"hi","type":"quantitative"}}},{"transform":[{"filter":"datum.F2"}],"mark":{"type":"rule","style":"fit","clip":true},"encoding":{"x2":{"field":"F2"},"y2":{"field":"z2"}}}]},
      {"transform":[{"filter":"datum.yr"}],"encoding":{"x":{"field":"yr","type":"ordinal","scale":{"type":"point","padding":0.5,"range":[67,199]},"axis":{"orient":"bottom","offset":-27,"labelAngle":-90,"labelAlign":"right","labelBaseline":"middle","labelFontSize":11,"labelPadding":3,"labelOverlap":false,"labelExpr":"substring(datum.label,0,4)","ticks":false,"title":null}},"y":{"field":"E","type":"quantitative","scale":{"domain":[0,0.4],"range":[133,72]},"axis":{"orient":"left","offset":-67,"values":[0,0.1,0.2,0.3,0.4],"labelExpr":"datum.value+''","labelFontSize":11,"labelPadding":3,"grid":true,"gridColor":"#e6e6e6","ticks":false,"title":["E_best","n/2"],"titleAngle":0,"titleX":-38,"titleY":102,"titleAlign":"center","titleBaseline":"middle","titleFontSize":9.5,"titleLineHeight":11}}},
       "layer":[{"mark":{"type":"rule","color":"#e6e6e6"},"encoding":{"y":{"datum":0},"y2":{"datum":0.4}}},{"mark":{"type":"line","style":"iln"}},{"mark":{"type":"square","style":"isq"},"encoding":{"fill":{"condition":{"test":"datum.hi","value":"#000"},"value":"#4DBEEE"},"order":{"field":"hi","type":"quantitative"}}}]},
      {"data":{"values":[{}]},"encoding":{"x":{"datum":0,"type":"quantitative","scale":{"domain":[0,1],"range":[67,199]},"axis":null},"x2":{"datum":1}},
       "layer":[{"mark":{"type":"rect","filled":false,"color":"#7a7a7a"},"encoding":{"y":{"datum":0,"type":"quantitative","scale":{"domain":[0,0.4],"range":[133,72]},"axis":null},"y2":{"datum":0.4}}},{"mark":{"type":"rule","style":"thr"},"encoding":{"y":{"datum":0.05,"type":"quantitative","scale":{"domain":[0,0.4],"range":[133,72]},"axis":null}}}]}]},
    {"width":202,"height":160,"title":{"text":"Slovakia","subtitle":"rζ,F = 1.00"},"transform":[{"filter":"datum.c=='Slovakia'"}],"resolve":{"scale":{"x":"independent","y":"independent"}},"layer":[
      {"encoding":{"x":{"field":"F","type":"quantitative","scale":{"domain":[0,60]},"axis":{"values":[0,30,60],"labelExpr":"datum.value+''","title":"frustration"}},"y":{"field":"z","type":"quantitative","scale":{"domain":[0,0.9]},"axis":{"values":[0,0.45,0.9],"labelExpr":"datum.value+''","title":null}}},
       "layer":[{"transform":[{"filter":"datum.yr"}],"mark":{"type":"square","style":"msq"},"encoding":{"fill":{"condition":{"test":"datum.hi","value":"#000"},"value":"#D95319"},"order":{"field":"hi","type":"quantitative"}}},{"transform":[{"filter":"datum.F2"}],"mark":{"type":"rule","style":"fit","clip":true},"encoding":{"x2":{"field":"F2"},"y2":{"field":"z2"}}}]},
      {"transform":[{"filter":"datum.yr"}],"encoding":{"x":{"field":"yr","type":"ordinal","scale":{"type":"point","padding":0.5,"range":[67,199]},"axis":{"orient":"bottom","offset":-27,"labelAngle":-90,"labelAlign":"right","labelBaseline":"middle","labelFontSize":11,"labelPadding":3,"labelOverlap":false,"labelExpr":"substring(datum.label,0,4)","ticks":false,"title":null}},"y":{"field":"E","type":"quantitative","scale":{"domain":[0,0.4],"range":[133,72]},"axis":{"orient":"left","offset":-67,"values":[0,0.1,0.2,0.3,0.4],"labelExpr":"datum.value+''","labelFontSize":11,"labelPadding":3,"grid":true,"gridColor":"#e6e6e6","ticks":false,"title":["E_best","n/2"],"titleAngle":0,"titleX":-38,"titleY":102,"titleAlign":"center","titleBaseline":"middle","titleFontSize":9.5,"titleLineHeight":11}}},
       "layer":[{"mark":{"type":"rule","color":"#e6e6e6"},"encoding":{"y":{"datum":0},"y2":{"datum":0.4}}},{"mark":{"type":"line","style":"iln"}},{"mark":{"type":"square","style":"isq"},"encoding":{"fill":{"condition":{"test":"datum.hi","value":"#000"},"value":"#4DBEEE"},"order":{"field":"hi","type":"quantitative"}}}]},
      {"data":{"values":[{}]},"encoding":{"x":{"datum":0,"type":"quantitative","scale":{"domain":[0,1],"range":[67,199]},"axis":null},"x2":{"datum":1}},
       "layer":[{"mark":{"type":"rect","filled":false,"color":"#7a7a7a"},"encoding":{"y":{"datum":0,"type":"quantitative","scale":{"domain":[0,0.4],"range":[133,72]},"axis":null},"y2":{"datum":0.4}}},{"mark":{"type":"rule","style":"thr"},"encoding":{"y":{"datum":0.05,"type":"quantitative","scale":{"domain":[0,0.4],"range":[133,72]},"axis":null}}}]}]},
    {"width":202,"height":160,"title":{"text":"Slovenia","subtitle":"rζ,F = 1.00"},"transform":[{"filter":"datum.c=='Slovenia'"}],"resolve":{"scale":{"x":"independent","y":"independent"}},"layer":[
      {"encoding":{"x":{"field":"F","type":"quantitative","scale":{"domain":[0,40]},"axis":{"values":[0,20,40],"labelExpr":"datum.value+''","title":"frustration"}},"y":{"field":"z","type":"quantitative","scale":{"domain":[0,0.9]},"axis":{"values":[0,0.45,0.9],"labelExpr":"datum.value+''","title":"fractionalization index","titleX":-40,"titleY":80,"titleAngle":-90,"titleBaseline":"middle","titleAlign":"center"}}},
       "layer":[{"transform":[{"filter":"datum.yr"}],"mark":{"type":"square","style":"msq"},"encoding":{"fill":{"condition":{"test":"datum.hi","value":"#000"},"value":"#D95319"},"order":{"field":"hi","type":"quantitative"}}},{"transform":[{"filter":"datum.F2"}],"mark":{"type":"rule","style":"fit","clip":true},"encoding":{"x2":{"field":"F2"},"y2":{"field":"z2"}}}]},
      {"transform":[{"filter":"datum.yr"}],"encoding":{"x":{"field":"yr","type":"ordinal","scale":{"type":"point","padding":0.5,"range":[67,199]},"axis":{"orient":"bottom","offset":-27,"labelAngle":-90,"labelAlign":"right","labelBaseline":"middle","labelFontSize":11,"labelPadding":3,"labelOverlap":false,"labelExpr":"substring(datum.label,0,4)","ticks":false,"title":null}},"y":{"field":"E","type":"quantitative","scale":{"domain":[0,0.4],"range":[133,72]},"axis":{"orient":"left","offset":-67,"values":[0,0.1,0.2,0.3,0.4],"labelExpr":"datum.value+''","labelFontSize":11,"labelPadding":3,"grid":true,"gridColor":"#e6e6e6","ticks":false,"title":["E_best","n/2"],"titleAngle":0,"titleX":-38,"titleY":102,"titleAlign":"center","titleBaseline":"middle","titleFontSize":9.5,"titleLineHeight":11}}},
       "layer":[{"mark":{"type":"rule","color":"#e6e6e6"},"encoding":{"y":{"datum":0},"y2":{"datum":0.4}}},{"mark":{"type":"line","style":"iln"}},{"mark":{"type":"square","style":"isq"},"encoding":{"fill":{"condition":{"test":"datum.hi","value":"#000"},"value":"#4DBEEE"},"order":{"field":"hi","type":"quantitative"}}}]},
      {"data":{"values":[{}]},"encoding":{"x":{"datum":0,"type":"quantitative","scale":{"domain":[0,1],"range":[67,199]},"axis":null},"x2":{"datum":1}},
       "layer":[{"mark":{"type":"rect","filled":false,"color":"#7a7a7a"},"encoding":{"y":{"datum":0,"type":"quantitative","scale":{"domain":[0,0.4],"range":[133,72]},"axis":null},"y2":{"datum":0.4}}},{"mark":{"type":"rule","style":"thr"},"encoding":{"y":{"datum":0.05,"type":"quantitative","scale":{"domain":[0,0.4],"range":[133,72]},"axis":null}}}]}]},
    {"width":202,"height":160,"title":{"text":"Spain","subtitle":"rζ,F = 1.00"},"transform":[{"filter":"datum.c=='Spain'"}],"resolve":{"scale":{"x":"independent","y":"independent"}},"layer":[
      {"encoding":{"x":{"field":"F","type":"quantitative","scale":{"domain":[0,200]},"axis":{"values":[0,100,200],"labelExpr":"datum.value+''","title":"frustration"}},"y":{"field":"z","type":"quantitative","scale":{"domain":[0,0.8]},"axis":{"values":[0,0.4,0.8],"labelExpr":"datum.value+''","title":null}}},
       "layer":[{"transform":[{"filter":"datum.yr"}],"mark":{"type":"square","style":"msq"},"encoding":{"fill":{"condition":{"test":"datum.hi","value":"#000"},"value":"#D95319"},"order":{"field":"hi","type":"quantitative"}}},{"transform":[{"filter":"datum.F2"}],"mark":{"type":"rule","style":"fit","clip":true},"encoding":{"x2":{"field":"F2"},"y2":{"field":"z2"}}}]},
      {"transform":[{"filter":"datum.yr"}],"encoding":{"x":{"field":"yr","type":"ordinal","scale":{"type":"point","padding":0.5,"range":[67,199]},"axis":{"orient":"bottom","offset":-27,"labelAngle":-90,"labelAlign":"right","labelBaseline":"middle","labelFontSize":11,"labelPadding":3,"labelOverlap":false,"labelExpr":"substring(datum.label,0,4)","ticks":false,"title":null}},"y":{"field":"E","type":"quantitative","scale":{"domain":[0,0.4],"range":[133,72]},"axis":{"orient":"left","offset":-67,"values":[0,0.1,0.2,0.3,0.4],"labelExpr":"datum.value+''","labelFontSize":11,"labelPadding":3,"grid":true,"gridColor":"#e6e6e6","ticks":false,"title":["E_best","n/2"],"titleAngle":0,"titleX":-38,"titleY":102,"titleAlign":"center","titleBaseline":"middle","titleFontSize":9.5,"titleLineHeight":11}}},
       "layer":[{"mark":{"type":"rule","color":"#e6e6e6"},"encoding":{"y":{"datum":0},"y2":{"datum":0.4}}},{"mark":{"type":"line","style":"iln"}},{"mark":{"type":"square","style":"isq"},"encoding":{"fill":{"condition":{"test":"datum.hi","value":"#000"},"value":"#4DBEEE"},"order":{"field":"hi","type":"quantitative"}}}]},
      {"data":{"values":[{}]},"encoding":{"x":{"datum":0,"type":"quantitative","scale":{"domain":[0,1],"range":[67,199]},"axis":null},"x2":{"datum":1}},
       "layer":[{"mark":{"type":"rect","filled":false,"color":"#7a7a7a"},"encoding":{"y":{"datum":0,"type":"quantitative","scale":{"domain":[0,0.4],"range":[133,72]},"axis":null},"y2":{"datum":0.4}}},{"mark":{"type":"rule","style":"thr"},"encoding":{"y":{"datum":0.05,"type":"quantitative","scale":{"domain":[0,0.4],"range":[133,72]},"axis":null}}}]}]},
    {"width":202,"height":160,"title":{"text":"Sweden","subtitle":"rζ,F = 1.00"},"transform":[{"filter":"datum.c=='Sweden'"}],"resolve":{"scale":{"x":"independent","y":"independent"}},"layer":[
      {"encoding":{"x":{"field":"F","type":"quantitative","scale":{"domain":[0,200]},"axis":{"values":[0,100,200],"labelExpr":"datum.value+''","title":"frustration"}},"y":{"field":"z","type":"quantitative","scale":{"domain":[0,0.9]},"axis":{"values":[0,0.45,0.9],"labelExpr":"datum.value+''","title":null}}},
       "layer":[{"transform":[{"filter":"datum.yr"}],"mark":{"type":"square","style":"msq"},"encoding":{"fill":{"condition":{"test":"datum.hi","value":"#000"},"value":"#D95319"},"order":{"field":"hi","type":"quantitative"}}},{"transform":[{"filter":"datum.F2"}],"mark":{"type":"rule","style":"fit","clip":true},"encoding":{"x2":{"field":"F2"},"y2":{"field":"z2"}}}]},
      {"transform":[{"filter":"datum.yr"}],"encoding":{"x":{"field":"yr","type":"ordinal","scale":{"type":"point","padding":0.5,"range":[67,199]},"axis":{"orient":"bottom","offset":-27,"labelAngle":-90,"labelAlign":"right","labelBaseline":"middle","labelFontSize":11,"labelPadding":3,"labelOverlap":false,"labelExpr":"substring(datum.label,0,4)","ticks":false,"title":null}},"y":{"field":"E","type":"quantitative","scale":{"domain":[0,0.4],"range":[133,72]},"axis":{"orient":"left","offset":-67,"values":[0,0.1,0.2,0.3,0.4],"labelExpr":"datum.value+''","labelFontSize":11,"labelPadding":3,"grid":true,"gridColor":"#e6e6e6","ticks":false,"title":["E_best","n/2"],"titleAngle":0,"titleX":-38,"titleY":102,"titleAlign":"center","titleBaseline":"middle","titleFontSize":9.5,"titleLineHeight":11}}},
       "layer":[{"mark":{"type":"rule","color":"#e6e6e6"},"encoding":{"y":{"datum":0},"y2":{"datum":0.4}}},{"mark":{"type":"line","style":"iln"}},{"mark":{"type":"square","style":"isq"},"encoding":{"fill":{"condition":{"test":"datum.hi","value":"#000"},"value":"#4DBEEE"},"order":{"field":"hi","type":"quantitative"}}}]},
      {"data":{"values":[{}]},"encoding":{"x":{"datum":0,"type":"quantitative","scale":{"domain":[0,1],"range":[67,199]},"axis":null},"x2":{"datum":1}},
       "layer":[{"mark":{"type":"rect","filled":false,"color":"#7a7a7a"},"encoding":{"y":{"datum":0,"type":"quantitative","scale":{"domain":[0,0.4],"range":[133,72]},"axis":null},"y2":{"datum":0.4}}},{"mark":{"type":"rule","style":"thr"},"encoding":{"y":{"datum":0.05,"type":"quantitative","scale":{"domain":[0,0.4],"range":[133,72]},"axis":null}}}]}]},
    {"width":202,"height":160,"title":{"text":"UK","subtitle":"rζ,F = 0.94"},"transform":[{"filter":"datum.c=='UK'"}],"resolve":{"scale":{"x":"independent","y":"independent"}},"layer":[
      {"encoding":{"x":{"field":"F","type":"quantitative","scale":{"domain":[0,80]},"axis":{"values":[0,40,80],"labelExpr":"datum.value+''","title":"frustration"}},"y":{"field":"z","type":"quantitative","scale":{"domain":[0,0.7]},"axis":{"values":[0,0.35,0.7],"labelExpr":"datum.value+''","title":null}}},
       "layer":[{"transform":[{"filter":"datum.yr"}],"mark":{"type":"square","style":"msq"},"encoding":{"fill":{"condition":{"test":"datum.hi","value":"#000"},"value":"#D95319"},"order":{"field":"hi","type":"quantitative"}}},{"transform":[{"filter":"datum.F2"}],"mark":{"type":"rule","style":"fit","clip":true},"encoding":{"x2":{"field":"F2"},"y2":{"field":"z2"}}}]},
      {"transform":[{"filter":"datum.yr"}],"encoding":{"x":{"field":"yr","type":"ordinal","scale":{"type":"point","padding":0.5,"range":[67,199]},"axis":{"orient":"bottom","offset":-27,"labelAngle":-90,"labelAlign":"right","labelBaseline":"middle","labelFontSize":11,"labelPadding":3,"labelOverlap":false,"labelExpr":"substring(datum.label,0,4)","ticks":false,"title":null}},"y":{"field":"E","type":"quantitative","scale":{"domain":[0,0.4],"range":[133,72]},"axis":{"orient":"left","offset":-67,"values":[0,0.1,0.2,0.3,0.4],"labelExpr":"datum.value+''","labelFontSize":11,"labelPadding":3,"grid":true,"gridColor":"#e6e6e6","ticks":false,"title":["E_best","n/2"],"titleAngle":0,"titleX":-38,"titleY":102,"titleAlign":"center","titleBaseline":"middle","titleFontSize":9.5,"titleLineHeight":11}}},
       "layer":[{"mark":{"type":"rule","color":"#e6e6e6"},"encoding":{"y":{"datum":0},"y2":{"datum":0.4}}},{"mark":{"type":"line","style":"iln"}},{"mark":{"type":"square","style":"isq"},"encoding":{"fill":{"condition":{"test":"datum.hi","value":"#000"},"value":"#4DBEEE"},"order":{"field":"hi","type":"quantitative"}}}]},
      {"data":{"values":[{}]},"encoding":{"x":{"datum":0,"type":"quantitative","scale":{"domain":[0,1],"range":[67,199]},"axis":null},"x2":{"datum":1}},
       "layer":[{"mark":{"type":"rect","filled":false,"color":"#7a7a7a"},"encoding":{"y":{"datum":0,"type":"quantitative","scale":{"domain":[0,0.4],"range":[133,72]},"axis":null},"y2":{"datum":0.4}}},{"mark":{"type":"rule","style":"thr"},"encoding":{"y":{"datum":0.05,"type":"quantitative","scale":{"domain":[0,0.4],"range":[133,72]},"axis":null}}}]}]}
  ],
  "config": {
    "font": "Liberation Serif",
    "view": {"stroke": "#7a7a7a", "strokeWidth": 1},
    "square": {"opacity": 1},
    "title": {"fontSize": 17, "fontWeight": "normal", "color": "#000", "subtitleFontSize": 16, "subtitleColor": "#000", "subtitlePadding": 2, "offset": -5, "anchor": "middle"},
    "axis": {"labelFontSize": 15, "labelColor": "#262626", "titleFontSize": 16, "titleFontWeight": "normal", "titleColor": "#000", "domain": false, "grid": false, "tickColor": "#555", "tickSize": -4, "labelPadding": 7, "labelFlush": false},
    "style": {
      "msq": {"size": 80, "stroke": "#EE9A72", "strokeWidth": 1},
      "fit": {"color": "#D95319", "strokeDash": [5, 4], "strokeWidth": 1.4},
      "thr": {"color": "#000", "strokeDash": [5, 3], "strokeWidth": 1.5},
      "iln": {"color": "#4DBEEE", "strokeWidth": 1.2},
      "isq": {"size": 28, "stroke": "#4DBEEE", "strokeWidth": 1}
    }
  }
}
